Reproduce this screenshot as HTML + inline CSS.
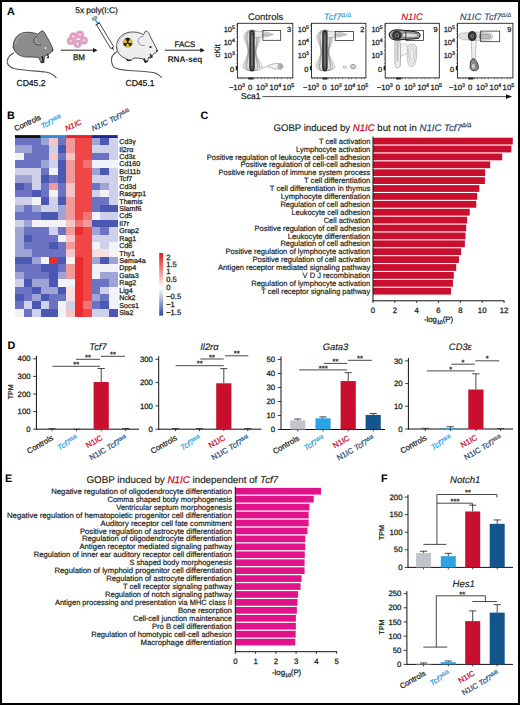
<!DOCTYPE html><html><head><meta charset="utf-8"><style>html,body{margin:0;padding:0;background:#fff;}svg{display:block;}text{font-family:"Liberation Sans", sans-serif;text-rendering:geometricPrecision;}</style></head><body>
<svg width="520" height="705" viewBox="0 0 520 705">
<rect x="0" y="0" width="520" height="705" fill="#fff"/>
<text x="7.00" y="14.60" font-size="10.8" text-anchor="start" fill="#000" font-weight="bold" font-style="normal" >A</text>
<text x="7.00" y="118.60" font-size="10.8" text-anchor="start" fill="#000" font-weight="bold" font-style="normal" >B</text>
<text x="200.50" y="119.40" font-size="10.8" text-anchor="start" fill="#000" font-weight="bold" font-style="normal" >C</text>
<text x="7.50" y="348.80" font-size="10.8" text-anchor="start" fill="#000" font-weight="bold" font-style="normal" >D</text>
<text x="5.00" y="482.00" font-size="10.8" text-anchor="start" fill="#000" font-weight="bold" font-style="normal" >E</text>
<text x="381.00" y="481.60" font-size="10.8" text-anchor="start" fill="#000" font-weight="bold" font-style="normal" >F</text>
<text x="96.50" y="13.30" font-size="8.3" text-anchor="middle" fill="#231f20" font-weight="normal" font-style="normal"  stroke="#231f20" stroke-width="0.26">5x poly(I:C)</text>
<text x="31.00" y="85.60" font-size="8.6" text-anchor="middle" fill="#231f20" font-weight="normal" font-style="normal"  stroke="#231f20" stroke-width="0.26">CD45.2</text>
<text x="140.00" y="85.60" font-size="8.6" text-anchor="middle" fill="#231f20" font-weight="normal" font-style="normal"  stroke="#231f20" stroke-width="0.26">CD45.1</text>
<text x="79.00" y="60.30" font-size="8" text-anchor="middle" fill="#231f20" font-weight="normal" font-style="normal"  stroke="#231f20" stroke-width="0.26">BM</text>
<text x="185.00" y="46.80" font-size="8" text-anchor="middle" fill="#231f20" font-weight="normal" font-style="normal"  stroke="#231f20" stroke-width="0.26">FACS</text>
<text x="185.00" y="61.70" font-size="8.2" text-anchor="middle" fill="#231f20" font-weight="bold" font-style="normal" >RNA-seq</text>
<line x1="60.8" y1="50.2" x2="94.5" y2="50.2" stroke="#111" stroke-width="0.9"/>
<path d="M97.5,50.2 L93.0,47.900000000000006 L93.0,52.5 Z" fill="#111"/>
<line x1="164.8" y1="50.2" x2="201.8" y2="50.2" stroke="#111" stroke-width="0.9"/>
<path d="M204.8,50.2 L200.3,47.900000000000006 L200.3,52.5 Z" fill="#111"/>
<g stroke="#333" stroke-width="0.8" stroke-linejoin="round" stroke-linecap="round">
<path d="M13.5,53 C9,55.5 6.5,60 7.3,63 C8.5,66 10,67.3 14,68.5 C22,70.5 36,71 45.4,72 C50,72.8 54,75 56,77.7" fill="none" stroke="#555" stroke-width="1.2"/>
<path d="M13.2,47 C12.8,40 17,34 24,32.6 C28,31.8 34,32.5 37.7,34.2 L41.8,30.8 C43.5,31 44.8,32.5 45.2,33.8 C48,39 51.5,44.5 52.9,49.5 C52.8,51.2 52,52 51.2,52.3 L48.5,54.5 L45,55.5 L43.5,62.5 L41,62.7 L38.8,57.5 C35,57 31,57 27,57 C21,57 14,53.5 13.2,47 Z" fill="#8d8d8d"/>
</g>
<path d="M15.5,44 C16,38 20,34.5 26,33.5" fill="none" stroke="#b0b0b0" stroke-width="0.9"/>
<path d="M37,36.5 C34,37.5 33.2,40.5 34.5,43 C35.5,44.5 38,45 41,44.9" fill="none" stroke="#3a3a3a" stroke-width="0.9"/>
<path d="M37,37.5 C35,38.5 34.8,41 35.8,42.5 C36.8,43.8 38.5,44 40,43.8" fill="none" stroke="#c4c4c4" stroke-width="0.8"/>
<path d="M42,56 L43.5,62 L41,62.5" fill="none" stroke="#222" stroke-width="1.5"/>
<path d="M47.5,53.8 L48.5,57.5 L46.8,58" fill="none" stroke="#222" stroke-width="1.2"/>
<circle cx="45.5" cy="48.1" r="0.9" fill="#f0f0f0"/>
<circle cx="52.6" cy="50" r="0.8" fill="#222"/>
<circle cx="77.6" cy="43.8" r="3.9" fill="#f0b6cf" stroke="#a9a0aa" stroke-width="0.55"/>
<circle cx="77.6" cy="43.8" r="2.3" fill="#f6cadc" stroke="#de7aa8" stroke-width="0.9"/>
<circle cx="83.8" cy="40.4" r="3.9" fill="#f0b6cf" stroke="#a9a0aa" stroke-width="0.55"/>
<circle cx="83.8" cy="40.4" r="2.3" fill="#f6cadc" stroke="#de7aa8" stroke-width="0.9"/>
<circle cx="70.9" cy="40.9" r="3.9" fill="#f0b6cf" stroke="#a9a0aa" stroke-width="0.55"/>
<circle cx="70.9" cy="40.9" r="2.3" fill="#f6cadc" stroke="#de7aa8" stroke-width="0.9"/>
<circle cx="80" cy="34.6" r="3.9" fill="#f0b6cf" stroke="#a9a0aa" stroke-width="0.55"/>
<circle cx="80" cy="34.6" r="2.3" fill="#f6cadc" stroke="#de7aa8" stroke-width="0.9"/>
<circle cx="73.3" cy="36.5" r="3.9" fill="#f0b6cf" stroke="#a9a0aa" stroke-width="0.55"/>
<circle cx="73.3" cy="36.5" r="2.3" fill="#f6cadc" stroke="#de7aa8" stroke-width="0.9"/>
<g transform="translate(104,34) rotate(59)">
<rect x="-12" y="-1.7" width="28" height="3.4" fill="#fff" stroke="#222" stroke-width="0.75"/>
<path d="M16,-0.8 L19.5,0 L16,0.8 Z" fill="#222"/>
<line x1="-12" y1="0" x2="-17" y2="0" stroke="#5a9ed6" stroke-width="1.6"/>
<rect x="-19.5" y="-2.4" width="2.4" height="4.8" fill="#9cc8ea" stroke="#345" stroke-width="0.5"/>
<line x1="-12" y1="-2.6" x2="-12" y2="2.6" stroke="#222" stroke-width="0.8"/>
</g>
<g stroke="#2a2a2a" stroke-width="0.8" stroke-linejoin="round" stroke-linecap="round">
<path d="M117,51.5 C113,54 111,58 111.5,61 C112,64.5 113,67 115,68 C120,70 128,70.6 136,71 C145,71.5 150,72 154.6,72.7 C158,74 160,75.5 161.5,77.3" fill="none" stroke="#555" stroke-width="1.1"/>
<path d="M116.6,48 C116,40 121,33.5 129.5,32.2 C135,31.5 140,32.5 143.5,34.7 L145.6,31 C147.3,30.8 149.5,33 150.3,36.8 C152.5,41 155.5,46 157.2,50 C157.2,52 155.8,53 153.8,53.6 L151.5,56.5 L148.5,57.5 L147.8,61.5 L145,62.5 L143.2,58.8 C140,58.2 137,57.9 134,58 L131.7,60 L127.5,60.6 L125.8,58.4 C121,57 117.4,53.2 116.6,48 Z" fill="#eeeeee"/>
</g>
<path d="M143.5,36.5 C140,36 137.6,39 138.2,42 C138.8,44.5 141,45.8 144.6,45.5" fill="none" stroke="#7a70a8" stroke-width="0.75"/>
<path d="M119,43 C120,37 125,33.5 131,33" fill="none" stroke="#b8b4d8" stroke-width="0.7"/>
<path d="M144,58.5 L145.5,62 L147.5,61" fill="none" stroke="#222" stroke-width="1.6"/>
<path d="M126.5,59 L128,60.5 L130.5,60" fill="none" stroke="#222" stroke-width="1.5"/>
<path d="M150,54 L152,57 L149.5,58" fill="none" stroke="#333" stroke-width="1.4"/>
<path d="M156,51.5 L157.8,50.2" fill="none" stroke="#222" stroke-width="1.2"/>
<circle cx="150.5" cy="47" r="1.1" fill="#1a1a1a"/>
<circle cx="127.7" cy="42.7" r="4.6" fill="#f2c21a" stroke="#555" stroke-width="0.4"/>
<circle cx="127.7" cy="42.7" r="0.9" fill="#222"/>
<path d="M127.7,42.7 L125.2,38.8 A4,4 0 0 1 130.2,38.8 Z M127.7,42.7 L132.2,43.2 A4,4 0 0 1 129.8,46.6 Z M127.7,42.7 L125.6,46.6 A4,4 0 0 1 123.2,43.2 Z" fill="#222"/>
<text x="265.60" y="20.20" font-size="9.5" text-anchor="middle" fill="#231f20" font-weight="normal" font-style="normal"  stroke="#231f20" stroke-width="0.16">Controls</text>
<text x="234.80" y="31.70" font-size="7.4" text-anchor="end" fill="#231f20" stroke="#231f20" stroke-width="0.26">10<tspan font-size="5.2" dy="-2.9">5</tspan></text>
<text x="234.80" y="45.00" font-size="7.4" text-anchor="end" fill="#231f20" stroke="#231f20" stroke-width="0.26">10<tspan font-size="5.2" dy="-2.9">4</tspan></text>
<text x="234.80" y="57.70" font-size="7.4" text-anchor="end" fill="#231f20" stroke="#231f20" stroke-width="0.26">10<tspan font-size="5.2" dy="-2.9">3</tspan></text>
<text x="234.20" y="71.50" font-size="7.4" text-anchor="end" fill="#231f20" font-weight="normal" font-style="normal"  stroke="#231f20" stroke-width="0.26">0</text>
<text x="236.90" y="89.60" font-size="7.7" text-anchor="middle" fill="#231f20" stroke="#231f20" stroke-width="0.26">−10<tspan font-size="5.4" dy="-2.9">3</tspan></text>
<text x="250.20" y="89.60" font-size="7.7" text-anchor="middle" fill="#231f20" font-weight="normal" font-style="normal"  stroke="#231f20" stroke-width="0.26">0</text>
<text x="261.90" y="89.60" font-size="7.7" text-anchor="middle" fill="#231f20" stroke="#231f20" stroke-width="0.26">10<tspan font-size="5.4" dy="-2.9">3</tspan></text>
<text x="275.40" y="89.60" font-size="7.7" text-anchor="middle" fill="#231f20" stroke="#231f20" stroke-width="0.26">10<tspan font-size="5.4" dy="-2.9">4</tspan></text>
<text x="288.40" y="89.60" font-size="7.7" text-anchor="middle" fill="#231f20" stroke="#231f20" stroke-width="0.26">10<tspan font-size="5.4" dy="-2.9">5</tspan></text>
<g transform="translate(237.4,23.3)">
<path d="M12.60,7 C8.60,8 5.60,11 6.60,15 C7.60,19 10.60,23 10.60,28 C10.60,34 5.60,39 5.60,43 C5.60,46 9.60,47.5 14.60,47.5 C19.60,47.5 25.60,46 24.60,43 C23.60,39 18.60,34 18.60,29 C18.60,23 23.60,19 22.60,14 C21.60,10 19.60,8 16.60,7 Z" fill="#f5f5f5" stroke="#9a9a9a" stroke-width="0.5"/>
<path d="M12.60,7 C9.50,8 7.40,11 8.10,15 C8.80,19 10.90,23 10.90,28 C10.90,34 7.40,39 7.40,43 C7.40,46 10.20,47.5 14.60,47.5 C19.00,47.5 23.20,46 22.50,43 C21.80,39 18.30,34 18.30,29 C18.30,23 21.80,19 21.10,14 C20.40,10 19.00,8 16.60,7 Z" fill="#ebebeb" stroke="#7a7a7a" stroke-width="0.5"/>
<path d="M12.60,7 C10.40,8 9.20,11 9.60,15 C10.00,19 11.20,23 11.20,28 C11.20,34 9.20,39 9.20,43 C9.20,46 10.80,47.5 14.60,47.5 C18.40,47.5 20.80,46 20.40,43 C20.00,39 18.00,34 18.00,29 C18.00,23 20.00,19 19.60,14 C19.20,10 18.40,8 16.60,7 Z" fill="#dedede" stroke="#606060" stroke-width="0.55"/>
<path d="M16.6,8 C22.6,7.5 30,8.5 36,11.2 C32,13.5 22.6,14 16.6,14.5 Z" fill="#e8e8e8" stroke="#888" stroke-width="0.5"/>
<path d="M24.6,10.5 C28.6,10 33,10.5 34.5,11.5 C32,12.5 28.6,12.8 24.6,12.5 Z" fill="#bbb"/>
<path d="M12.6,10 C12.2,6.5 17.0,6.5 16.6,10 L16.7,44 C16.9,48.5 12.3,48.5 12.5,44 Z" fill="#555" stroke="#111" stroke-width="1.1"/>
<path d="M14.2,12 L15.0,12 L14.9,43 L14.299999999999999,43 Z" fill="#999"/>
<path d="M29.7,43 C33,41 39,39.5 43,40.2 C46.5,41 46.5,45.5 43,46 C38,46.2 33,44.5 29.7,43 Z" fill="#f4f4f4" stroke="#777" stroke-width="0.5"/>
<circle cx="42.8" cy="43.1" r="2.2" fill="#ddd" stroke="#444" stroke-width="0.5"/>
<circle cx="42.8" cy="43.1" r="0.7" fill="#333"/>
<path d="M18,45 C22,44 26,43.5 29,43.5 C26,45 22,46 18,46.5 Z" fill="#eee" stroke="#999" stroke-width="0.4"/>
<rect x="25.5" y="7.3" width="17.80" height="9.70" fill="none" stroke="#222" stroke-width="0.75"/>
<text x="53.80" y="8.3" font-size="7.4" text-anchor="end" fill="#231f20" stroke="#231f20" stroke-width="0.26">3</text>
<line x1="-1.3" y1="1.5" x2="0" y2="1.5" stroke="#333" stroke-width="0.6"/>
<line x1="-1.3" y1="3" x2="0" y2="3" stroke="#333" stroke-width="0.6"/>
<line x1="-1.3" y1="5.7" x2="0" y2="5.7" stroke="#333" stroke-width="0.6"/>
<line x1="-1.3" y1="8" x2="0" y2="8" stroke="#333" stroke-width="0.6"/>
<line x1="-1.3" y1="10.5" x2="0" y2="10.5" stroke="#333" stroke-width="0.6"/>
<line x1="-1.3" y1="14" x2="0" y2="14" stroke="#333" stroke-width="0.6"/>
<line x1="-1.3" y1="18.7" x2="0" y2="18.7" stroke="#333" stroke-width="0.6"/>
<line x1="-1.3" y1="21" x2="0" y2="21" stroke="#333" stroke-width="0.6"/>
<line x1="-1.3" y1="23.5" x2="0" y2="23.5" stroke="#333" stroke-width="0.6"/>
<line x1="-1.3" y1="27" x2="0" y2="27" stroke="#333" stroke-width="0.6"/>
<line x1="-1.3" y1="31.5" x2="0" y2="31.5" stroke="#333" stroke-width="0.6"/>
<line x1="-1.3" y1="34" x2="0" y2="34" stroke="#333" stroke-width="0.6"/>
<line x1="-1.3" y1="36.5" x2="0" y2="36.5" stroke="#333" stroke-width="0.6"/>
<line x1="-1.3" y1="40" x2="0" y2="40" stroke="#333" stroke-width="0.6"/>
<rect x="-1.6" y="42.5" width="1.8" height="4.5" fill="#222"/>
<line x1="1" y1="54.6" x2="1" y2="55.9" stroke="#333" stroke-width="0.6"/>
<line x1="3.5" y1="54.6" x2="3.5" y2="55.9" stroke="#333" stroke-width="0.6"/>
<line x1="6" y1="54.6" x2="6" y2="55.9" stroke="#333" stroke-width="0.6"/>
<line x1="8.5" y1="54.6" x2="8.5" y2="55.9" stroke="#333" stroke-width="0.6"/>
<line x1="11" y1="54.6" x2="11" y2="55.9" stroke="#333" stroke-width="0.6"/>
<line x1="17" y1="54.6" x2="17" y2="55.9" stroke="#333" stroke-width="0.6"/>
<line x1="20" y1="54.6" x2="20" y2="55.9" stroke="#333" stroke-width="0.6"/>
<line x1="24" y1="54.6" x2="24" y2="55.9" stroke="#333" stroke-width="0.6"/>
<line x1="27" y1="54.6" x2="27" y2="55.9" stroke="#333" stroke-width="0.6"/>
<line x1="31" y1="54.6" x2="31" y2="55.9" stroke="#333" stroke-width="0.6"/>
<line x1="37" y1="54.6" x2="37" y2="55.9" stroke="#333" stroke-width="0.6"/>
<line x1="40" y1="54.6" x2="40" y2="55.9" stroke="#333" stroke-width="0.6"/>
<line x1="44" y1="54.6" x2="44" y2="55.9" stroke="#333" stroke-width="0.6"/>
<line x1="50" y1="54.6" x2="50" y2="55.9" stroke="#333" stroke-width="0.6"/>
<line x1="53" y1="54.6" x2="53" y2="55.9" stroke="#333" stroke-width="0.6"/>
<rect x="11" y="54.300000000000004" width="5" height="1.9" fill="#222"/>
<rect x="0" y="0" width="55.4" height="54.6" fill="none" stroke="#222" stroke-width="0.9"/>
</g>
<text x="337.5" y="20.2" font-size="9.5" text-anchor="middle" fill="#2ea3e3" font-style="italic" stroke="#2ea3e3" stroke-width="0.16">Tcf7<tspan font-size="6" dy="-3.5">Δ/Δ</tspan></text>
<text x="308.90" y="31.70" font-size="7.4" text-anchor="end" fill="#231f20" stroke="#231f20" stroke-width="0.26">10<tspan font-size="5.2" dy="-2.9">5</tspan></text>
<text x="308.90" y="45.00" font-size="7.4" text-anchor="end" fill="#231f20" stroke="#231f20" stroke-width="0.26">10<tspan font-size="5.2" dy="-2.9">4</tspan></text>
<text x="308.90" y="57.70" font-size="7.4" text-anchor="end" fill="#231f20" stroke="#231f20" stroke-width="0.26">10<tspan font-size="5.2" dy="-2.9">3</tspan></text>
<text x="308.30" y="71.50" font-size="7.4" text-anchor="end" fill="#231f20" font-weight="normal" font-style="normal"  stroke="#231f20" stroke-width="0.26">0</text>
<text x="311.00" y="89.60" font-size="7.7" text-anchor="middle" fill="#231f20" stroke="#231f20" stroke-width="0.26">−10<tspan font-size="5.4" dy="-2.9">3</tspan></text>
<text x="324.30" y="89.60" font-size="7.7" text-anchor="middle" fill="#231f20" font-weight="normal" font-style="normal"  stroke="#231f20" stroke-width="0.26">0</text>
<text x="336.00" y="89.60" font-size="7.7" text-anchor="middle" fill="#231f20" stroke="#231f20" stroke-width="0.26">10<tspan font-size="5.4" dy="-2.9">3</tspan></text>
<text x="349.50" y="89.60" font-size="7.7" text-anchor="middle" fill="#231f20" stroke="#231f20" stroke-width="0.26">10<tspan font-size="5.4" dy="-2.9">4</tspan></text>
<text x="362.50" y="89.60" font-size="7.7" text-anchor="middle" fill="#231f20" stroke="#231f20" stroke-width="0.26">10<tspan font-size="5.4" dy="-2.9">5</tspan></text>
<g transform="translate(311.5,23.3)">
<path d="M11.40,7 C7.40,8 4.40,11 5.40,15 C6.40,19 9.40,23 9.40,28 C9.40,34 4.40,39 4.40,43 C4.40,46 8.40,47.5 13.40,47.5 C18.40,47.5 24.40,46 23.40,43 C22.40,39 17.40,34 17.40,29 C17.40,23 22.40,19 21.40,14 C20.40,10 18.40,8 15.40,7 Z" fill="#f5f5f5" stroke="#9a9a9a" stroke-width="0.5"/>
<path d="M11.40,7 C8.30,8 6.20,11 6.90,15 C7.60,19 9.70,23 9.70,28 C9.70,34 6.20,39 6.20,43 C6.20,46 9.00,47.5 13.40,47.5 C17.80,47.5 22.00,46 21.30,43 C20.60,39 17.10,34 17.10,29 C17.10,23 20.60,19 19.90,14 C19.20,10 17.80,8 15.40,7 Z" fill="#ebebeb" stroke="#7a7a7a" stroke-width="0.5"/>
<path d="M11.40,7 C9.20,8 8.00,11 8.40,15 C8.80,19 10.00,23 10.00,28 C10.00,34 8.00,39 8.00,43 C8.00,46 9.60,47.5 13.40,47.5 C17.20,47.5 19.60,46 19.20,43 C18.80,39 16.80,34 16.80,29 C16.80,23 18.80,19 18.40,14 C18.00,10 17.20,8 15.40,7 Z" fill="#dedede" stroke="#606060" stroke-width="0.55"/>
<path d="M15.4,8 C21.4,7.5 29.5,8.5 35.5,11.2 C31.5,13.5 21.4,14 15.4,14.5 Z" fill="#e8e8e8" stroke="#888" stroke-width="0.5"/>
<path d="M23.4,10.5 C27.4,10 32.5,10.5 34.0,11.5 C31.5,12.5 27.4,12.8 23.4,12.5 Z" fill="#bbb"/>
<path d="M11.4,10 C11.0,6.5 15.8,6.5 15.4,10 L15.5,44 C15.7,48.5 11.100000000000001,48.5 11.3,44 Z" fill="#555" stroke="#111" stroke-width="1.1"/>
<path d="M13.0,12 L13.8,12 L13.700000000000001,43 L13.1,43 Z" fill="#999"/>
<ellipse cx="33.2" cy="43.8" rx="1.8" ry="1.1" fill="#fff" stroke="#777" stroke-width="0.5"/>
<ellipse cx="41.5" cy="43.3" rx="2.6" ry="2.2" fill="#eee" stroke="#555" stroke-width="0.6"/>
<ellipse cx="41.5" cy="43.3" rx="1.1" ry="1" fill="#fff" stroke="#777" stroke-width="0.4"/>
<rect x="23.7" y="8.1" width="18.40" height="9.00" fill="none" stroke="#222" stroke-width="0.75"/>
<text x="52.80" y="8.3" font-size="7.4" text-anchor="end" fill="#231f20" stroke="#231f20" stroke-width="0.26">2</text>
<line x1="-1.3" y1="1.5" x2="0" y2="1.5" stroke="#333" stroke-width="0.6"/>
<line x1="-1.3" y1="3" x2="0" y2="3" stroke="#333" stroke-width="0.6"/>
<line x1="-1.3" y1="5.7" x2="0" y2="5.7" stroke="#333" stroke-width="0.6"/>
<line x1="-1.3" y1="8" x2="0" y2="8" stroke="#333" stroke-width="0.6"/>
<line x1="-1.3" y1="10.5" x2="0" y2="10.5" stroke="#333" stroke-width="0.6"/>
<line x1="-1.3" y1="14" x2="0" y2="14" stroke="#333" stroke-width="0.6"/>
<line x1="-1.3" y1="18.7" x2="0" y2="18.7" stroke="#333" stroke-width="0.6"/>
<line x1="-1.3" y1="21" x2="0" y2="21" stroke="#333" stroke-width="0.6"/>
<line x1="-1.3" y1="23.5" x2="0" y2="23.5" stroke="#333" stroke-width="0.6"/>
<line x1="-1.3" y1="27" x2="0" y2="27" stroke="#333" stroke-width="0.6"/>
<line x1="-1.3" y1="31.5" x2="0" y2="31.5" stroke="#333" stroke-width="0.6"/>
<line x1="-1.3" y1="34" x2="0" y2="34" stroke="#333" stroke-width="0.6"/>
<line x1="-1.3" y1="36.5" x2="0" y2="36.5" stroke="#333" stroke-width="0.6"/>
<line x1="-1.3" y1="40" x2="0" y2="40" stroke="#333" stroke-width="0.6"/>
<rect x="-1.6" y="42.5" width="1.8" height="4.5" fill="#222"/>
<line x1="1" y1="54.6" x2="1" y2="55.9" stroke="#333" stroke-width="0.6"/>
<line x1="3.5" y1="54.6" x2="3.5" y2="55.9" stroke="#333" stroke-width="0.6"/>
<line x1="6" y1="54.6" x2="6" y2="55.9" stroke="#333" stroke-width="0.6"/>
<line x1="8.5" y1="54.6" x2="8.5" y2="55.9" stroke="#333" stroke-width="0.6"/>
<line x1="11" y1="54.6" x2="11" y2="55.9" stroke="#333" stroke-width="0.6"/>
<line x1="17" y1="54.6" x2="17" y2="55.9" stroke="#333" stroke-width="0.6"/>
<line x1="20" y1="54.6" x2="20" y2="55.9" stroke="#333" stroke-width="0.6"/>
<line x1="24" y1="54.6" x2="24" y2="55.9" stroke="#333" stroke-width="0.6"/>
<line x1="27" y1="54.6" x2="27" y2="55.9" stroke="#333" stroke-width="0.6"/>
<line x1="31" y1="54.6" x2="31" y2="55.9" stroke="#333" stroke-width="0.6"/>
<line x1="37" y1="54.6" x2="37" y2="55.9" stroke="#333" stroke-width="0.6"/>
<line x1="40" y1="54.6" x2="40" y2="55.9" stroke="#333" stroke-width="0.6"/>
<line x1="44" y1="54.6" x2="44" y2="55.9" stroke="#333" stroke-width="0.6"/>
<line x1="50" y1="54.6" x2="50" y2="55.9" stroke="#333" stroke-width="0.6"/>
<line x1="53" y1="54.6" x2="53" y2="55.9" stroke="#333" stroke-width="0.6"/>
<rect x="11" y="54.300000000000004" width="5" height="1.9" fill="#222"/>
<rect x="0" y="0" width="54.4" height="54.6" fill="none" stroke="#222" stroke-width="0.9"/>
</g>
<text x="412.00" y="20.20" font-size="9.5" text-anchor="middle" fill="#c8102e" font-weight="normal" font-style="italic"  stroke="#c8102e" stroke-width="0.16">N1IC</text>
<text x="382.60" y="31.70" font-size="7.4" text-anchor="end" fill="#231f20" stroke="#231f20" stroke-width="0.26">10<tspan font-size="5.2" dy="-2.9">5</tspan></text>
<text x="382.60" y="45.00" font-size="7.4" text-anchor="end" fill="#231f20" stroke="#231f20" stroke-width="0.26">10<tspan font-size="5.2" dy="-2.9">4</tspan></text>
<text x="382.60" y="57.70" font-size="7.4" text-anchor="end" fill="#231f20" stroke="#231f20" stroke-width="0.26">10<tspan font-size="5.2" dy="-2.9">3</tspan></text>
<text x="382.00" y="71.50" font-size="7.4" text-anchor="end" fill="#231f20" font-weight="normal" font-style="normal"  stroke="#231f20" stroke-width="0.26">0</text>
<text x="384.70" y="89.60" font-size="7.7" text-anchor="middle" fill="#231f20" stroke="#231f20" stroke-width="0.26">−10<tspan font-size="5.4" dy="-2.9">3</tspan></text>
<text x="398.00" y="89.60" font-size="7.7" text-anchor="middle" fill="#231f20" font-weight="normal" font-style="normal"  stroke="#231f20" stroke-width="0.26">0</text>
<text x="409.70" y="89.60" font-size="7.7" text-anchor="middle" fill="#231f20" stroke="#231f20" stroke-width="0.26">10<tspan font-size="5.4" dy="-2.9">3</tspan></text>
<text x="423.20" y="89.60" font-size="7.7" text-anchor="middle" fill="#231f20" stroke="#231f20" stroke-width="0.26">10<tspan font-size="5.4" dy="-2.9">4</tspan></text>
<text x="436.20" y="89.60" font-size="7.7" text-anchor="middle" fill="#231f20" stroke="#231f20" stroke-width="0.26">10<tspan font-size="5.4" dy="-2.9">5</tspan></text>
<g transform="translate(385.2,23.3)">
<path d="M21.8,26 C22,20 30,19 31.3,24 C32,30 31.5,38 29,42 C26,44.5 23,43 22.5,38 C21.8,34 21.6,30 21.8,26 Z" fill="#f0f0f0" stroke="#888" stroke-width="0.5"/>
<path d="M23.5,26.5 C24,22 29,22 29.8,25.5 C30.2,30 30,37 28,40 C26,42 24.5,40 24,36 C23.6,33 23.4,30 23.5,26.5 Z" fill="none" stroke="#999" stroke-width="0.45"/>
<path d="M25.3,27 C25.8,24.5 28,24.5 28.2,27 C28.4,31 28.2,35 27,37.5 C26,38.5 25.5,37 25.3,34 Z" fill="none" stroke="#aaa" stroke-width="0.4"/>
<path d="M14,22 C17,20 20,20 22,22 L22.5,30 C19,31 16,33 14.5,34 Z" fill="#f3f3f3" stroke="#999" stroke-width="0.45"/>
<path d="M10,16 L14.5,16 C15.5,24 15.5,34 15,42 C14.5,45.5 10.5,45.5 10,42 C9.5,34 9.5,24 10,16 Z" fill="#eee" stroke="#777" stroke-width="0.55"/>
<path d="M11.4,17 L13.2,17 L13.2,38 L11.4,38 Z" fill="#bbb"/>
<path d="M4,11.5 C4,7 10,6.2 14,6.6 C20,7.2 28,8 33,9 C35.5,10 35.5,14 33,15 C28,16 20,16 15,16.5 C10,17.5 4,16 4,11.5 Z" fill="#999" stroke="#111" stroke-width="1"/>
<path d="M17,10 C23,9.5 29,10 32,11 C33,12 32.5,13.5 31,13.8 C26,14.2 21,14 17,13.8 Z" fill="#ddd" stroke="#555" stroke-width="0.5"/>
<circle cx="11.7" cy="12" r="4.8" fill="#333"/>
<circle cx="11.7" cy="12" r="2.2" fill="#777"/>
<circle cx="11.7" cy="12" r="1" fill="#222"/>
<rect x="20.6" y="7.2" width="17.80" height="10.10" fill="none" stroke="#222" stroke-width="0.75"/>
<text x="52.50" y="8.3" font-size="7.4" text-anchor="end" fill="#231f20" stroke="#231f20" stroke-width="0.26">9</text>
<line x1="-1.3" y1="1.5" x2="0" y2="1.5" stroke="#333" stroke-width="0.6"/>
<line x1="-1.3" y1="3" x2="0" y2="3" stroke="#333" stroke-width="0.6"/>
<line x1="-1.3" y1="5.7" x2="0" y2="5.7" stroke="#333" stroke-width="0.6"/>
<line x1="-1.3" y1="8" x2="0" y2="8" stroke="#333" stroke-width="0.6"/>
<line x1="-1.3" y1="10.5" x2="0" y2="10.5" stroke="#333" stroke-width="0.6"/>
<line x1="-1.3" y1="14" x2="0" y2="14" stroke="#333" stroke-width="0.6"/>
<line x1="-1.3" y1="18.7" x2="0" y2="18.7" stroke="#333" stroke-width="0.6"/>
<line x1="-1.3" y1="21" x2="0" y2="21" stroke="#333" stroke-width="0.6"/>
<line x1="-1.3" y1="23.5" x2="0" y2="23.5" stroke="#333" stroke-width="0.6"/>
<line x1="-1.3" y1="27" x2="0" y2="27" stroke="#333" stroke-width="0.6"/>
<line x1="-1.3" y1="31.5" x2="0" y2="31.5" stroke="#333" stroke-width="0.6"/>
<line x1="-1.3" y1="34" x2="0" y2="34" stroke="#333" stroke-width="0.6"/>
<line x1="-1.3" y1="36.5" x2="0" y2="36.5" stroke="#333" stroke-width="0.6"/>
<line x1="-1.3" y1="40" x2="0" y2="40" stroke="#333" stroke-width="0.6"/>
<rect x="-1.6" y="42.5" width="1.8" height="4.5" fill="#222"/>
<line x1="1" y1="54.6" x2="1" y2="55.9" stroke="#333" stroke-width="0.6"/>
<line x1="3.5" y1="54.6" x2="3.5" y2="55.9" stroke="#333" stroke-width="0.6"/>
<line x1="6" y1="54.6" x2="6" y2="55.9" stroke="#333" stroke-width="0.6"/>
<line x1="8.5" y1="54.6" x2="8.5" y2="55.9" stroke="#333" stroke-width="0.6"/>
<line x1="11" y1="54.6" x2="11" y2="55.9" stroke="#333" stroke-width="0.6"/>
<line x1="17" y1="54.6" x2="17" y2="55.9" stroke="#333" stroke-width="0.6"/>
<line x1="20" y1="54.6" x2="20" y2="55.9" stroke="#333" stroke-width="0.6"/>
<line x1="24" y1="54.6" x2="24" y2="55.9" stroke="#333" stroke-width="0.6"/>
<line x1="27" y1="54.6" x2="27" y2="55.9" stroke="#333" stroke-width="0.6"/>
<line x1="31" y1="54.6" x2="31" y2="55.9" stroke="#333" stroke-width="0.6"/>
<line x1="37" y1="54.6" x2="37" y2="55.9" stroke="#333" stroke-width="0.6"/>
<line x1="40" y1="54.6" x2="40" y2="55.9" stroke="#333" stroke-width="0.6"/>
<line x1="44" y1="54.6" x2="44" y2="55.9" stroke="#333" stroke-width="0.6"/>
<line x1="50" y1="54.6" x2="50" y2="55.9" stroke="#333" stroke-width="0.6"/>
<line x1="53" y1="54.6" x2="53" y2="55.9" stroke="#333" stroke-width="0.6"/>
<rect x="11" y="54.300000000000004" width="5" height="1.9" fill="#222"/>
<rect x="0" y="0" width="54.1" height="54.6" fill="none" stroke="#222" stroke-width="0.9"/>
</g>
<text x="485.5" y="20.2" font-size="9.5" text-anchor="middle" fill="#335279" font-style="italic" stroke="#335279" stroke-width="0.16">N1IC Tcf7<tspan font-size="6" dy="-3.5">Δ/Δ</tspan></text>
<text x="454.80" y="31.70" font-size="7.4" text-anchor="end" fill="#231f20" stroke="#231f20" stroke-width="0.26">10<tspan font-size="5.2" dy="-2.9">5</tspan></text>
<text x="454.80" y="45.00" font-size="7.4" text-anchor="end" fill="#231f20" stroke="#231f20" stroke-width="0.26">10<tspan font-size="5.2" dy="-2.9">4</tspan></text>
<text x="454.80" y="57.70" font-size="7.4" text-anchor="end" fill="#231f20" stroke="#231f20" stroke-width="0.26">10<tspan font-size="5.2" dy="-2.9">3</tspan></text>
<text x="454.20" y="71.50" font-size="7.4" text-anchor="end" fill="#231f20" font-weight="normal" font-style="normal"  stroke="#231f20" stroke-width="0.26">0</text>
<text x="456.90" y="89.60" font-size="7.7" text-anchor="middle" fill="#231f20" stroke="#231f20" stroke-width="0.26">−10<tspan font-size="5.4" dy="-2.9">3</tspan></text>
<text x="470.20" y="89.60" font-size="7.7" text-anchor="middle" fill="#231f20" font-weight="normal" font-style="normal"  stroke="#231f20" stroke-width="0.26">0</text>
<text x="481.90" y="89.60" font-size="7.7" text-anchor="middle" fill="#231f20" stroke="#231f20" stroke-width="0.26">10<tspan font-size="5.4" dy="-2.9">3</tspan></text>
<text x="495.40" y="89.60" font-size="7.7" text-anchor="middle" fill="#231f20" stroke="#231f20" stroke-width="0.26">10<tspan font-size="5.4" dy="-2.9">4</tspan></text>
<text x="508.40" y="89.60" font-size="7.7" text-anchor="middle" fill="#231f20" stroke="#231f20" stroke-width="0.26">10<tspan font-size="5.4" dy="-2.9">5</tspan></text>
<g transform="translate(457.4,23.3)">
<path d="M1,12.5 C1,9.5 6,9.5 10,9.5 C16,8 26,9 33,10 C36,11 36,15.5 33,16.5 C26,17.5 18,17 12,16.8 C6,16.8 1,15.5 1,12.5 Z" fill="#e0e0e0" stroke="#999" stroke-width="0.5"/>
<path d="M22,11 C27,10.5 31,11 33,12 C34,13 33.5,14.5 32,15 C28,15.5 25,15.5 22,15 Z" fill="#bbb" stroke="#777" stroke-width="0.5"/>
<path d="M13.9,17 L19,17 C18.5,24 18,30 18,36 L14.5,36 C14.5,30 14,24 13.9,17 Z" fill="#eee" stroke="#888" stroke-width="0.5"/>
<path d="M12.8,42 C12.5,37 15,35 16.5,35.5 C19,36.5 21.5,42 21,45 C20,48 14,48.5 12.8,45 Z" fill="#888" stroke="#222" stroke-width="0.8"/>
<ellipse cx="16" cy="43" rx="1.6" ry="2.5" fill="#ccc"/>
<ellipse cx="14.8" cy="12.8" rx="4.4" ry="5" fill="#333"/>
<ellipse cx="14.8" cy="12.8" rx="1.8" ry="2" fill="#888"/>
<circle cx="14.8" cy="12.8" r="0.8" fill="#111"/>
<rect x="23.3" y="7.8" width="19.00" height="10.60" fill="none" stroke="#222" stroke-width="0.75"/>
<text x="53.90" y="8.3" font-size="7.4" text-anchor="end" fill="#231f20" stroke="#231f20" stroke-width="0.26">9</text>
<line x1="-1.3" y1="1.5" x2="0" y2="1.5" stroke="#333" stroke-width="0.6"/>
<line x1="-1.3" y1="3" x2="0" y2="3" stroke="#333" stroke-width="0.6"/>
<line x1="-1.3" y1="5.7" x2="0" y2="5.7" stroke="#333" stroke-width="0.6"/>
<line x1="-1.3" y1="8" x2="0" y2="8" stroke="#333" stroke-width="0.6"/>
<line x1="-1.3" y1="10.5" x2="0" y2="10.5" stroke="#333" stroke-width="0.6"/>
<line x1="-1.3" y1="14" x2="0" y2="14" stroke="#333" stroke-width="0.6"/>
<line x1="-1.3" y1="18.7" x2="0" y2="18.7" stroke="#333" stroke-width="0.6"/>
<line x1="-1.3" y1="21" x2="0" y2="21" stroke="#333" stroke-width="0.6"/>
<line x1="-1.3" y1="23.5" x2="0" y2="23.5" stroke="#333" stroke-width="0.6"/>
<line x1="-1.3" y1="27" x2="0" y2="27" stroke="#333" stroke-width="0.6"/>
<line x1="-1.3" y1="31.5" x2="0" y2="31.5" stroke="#333" stroke-width="0.6"/>
<line x1="-1.3" y1="34" x2="0" y2="34" stroke="#333" stroke-width="0.6"/>
<line x1="-1.3" y1="36.5" x2="0" y2="36.5" stroke="#333" stroke-width="0.6"/>
<line x1="-1.3" y1="40" x2="0" y2="40" stroke="#333" stroke-width="0.6"/>
<rect x="-1.6" y="42.5" width="1.8" height="4.5" fill="#222"/>
<line x1="1" y1="54.6" x2="1" y2="55.9" stroke="#333" stroke-width="0.6"/>
<line x1="3.5" y1="54.6" x2="3.5" y2="55.9" stroke="#333" stroke-width="0.6"/>
<line x1="6" y1="54.6" x2="6" y2="55.9" stroke="#333" stroke-width="0.6"/>
<line x1="8.5" y1="54.6" x2="8.5" y2="55.9" stroke="#333" stroke-width="0.6"/>
<line x1="11" y1="54.6" x2="11" y2="55.9" stroke="#333" stroke-width="0.6"/>
<line x1="17" y1="54.6" x2="17" y2="55.9" stroke="#333" stroke-width="0.6"/>
<line x1="20" y1="54.6" x2="20" y2="55.9" stroke="#333" stroke-width="0.6"/>
<line x1="24" y1="54.6" x2="24" y2="55.9" stroke="#333" stroke-width="0.6"/>
<line x1="27" y1="54.6" x2="27" y2="55.9" stroke="#333" stroke-width="0.6"/>
<line x1="31" y1="54.6" x2="31" y2="55.9" stroke="#333" stroke-width="0.6"/>
<line x1="37" y1="54.6" x2="37" y2="55.9" stroke="#333" stroke-width="0.6"/>
<line x1="40" y1="54.6" x2="40" y2="55.9" stroke="#333" stroke-width="0.6"/>
<line x1="44" y1="54.6" x2="44" y2="55.9" stroke="#333" stroke-width="0.6"/>
<line x1="50" y1="54.6" x2="50" y2="55.9" stroke="#333" stroke-width="0.6"/>
<line x1="53" y1="54.6" x2="53" y2="55.9" stroke="#333" stroke-width="0.6"/>
<rect x="11" y="54.300000000000004" width="5" height="1.9" fill="#222"/>
<rect x="0" y="0" width="55.5" height="54.6" fill="none" stroke="#222" stroke-width="0.9"/>
</g>
<text transform="translate(219.8,50.9) rotate(-90)" font-size="7.9" text-anchor="middle" fill="#231f20" stroke="#231f20" stroke-width="0.26">cKit</text>
<text x="241.00" y="99.30" font-size="8.5" text-anchor="start" fill="#231f20" font-weight="normal" font-style="normal"  stroke="#231f20" stroke-width="0.26">Sca1</text>
<line x1="262.5" y1="96.6" x2="507" y2="96.6" stroke="#222" stroke-width="0.8"/>
<path d="M512,96.6 L506,94.3 L506,98.9 Z" fill="#111"/>
<g shape-rendering="crispEdges">
<rect x="15.00" y="138.00" width="9.04" height="7.92" fill="#6b73c2"/>
<rect x="23.54" y="138.00" width="9.04" height="7.92" fill="#6b73c2"/>
<rect x="32.08" y="138.00" width="9.04" height="7.92" fill="#6b73c2"/>
<rect x="40.62" y="138.00" width="9.04" height="7.92" fill="#9ea4d6"/>
<rect x="49.17" y="138.00" width="9.04" height="7.92" fill="#f6c6c6"/>
<rect x="57.71" y="138.00" width="9.04" height="7.92" fill="#6b73c2"/>
<rect x="66.25" y="138.00" width="9.04" height="7.92" fill="#f29a9a"/>
<rect x="74.79" y="138.00" width="9.04" height="7.92" fill="#ef4646"/>
<rect x="83.33" y="138.00" width="9.04" height="7.92" fill="#ef4646"/>
<rect x="91.88" y="138.00" width="9.04" height="7.92" fill="#9ea4d6"/>
<rect x="100.42" y="138.00" width="9.04" height="7.92" fill="#4a57b3"/>
<rect x="108.96" y="138.00" width="9.04" height="7.92" fill="#cfd1ea"/>
<rect x="15.00" y="145.43" width="9.04" height="7.92" fill="#9ea4d6"/>
<rect x="23.54" y="145.43" width="9.04" height="7.92" fill="#9ea4d6"/>
<rect x="32.08" y="145.43" width="9.04" height="7.92" fill="#6b73c2"/>
<rect x="40.62" y="145.43" width="9.04" height="7.92" fill="#6b73c2"/>
<rect x="49.17" y="145.43" width="9.04" height="7.92" fill="#cfd1ea"/>
<rect x="57.71" y="145.43" width="9.04" height="7.92" fill="#4a57b3"/>
<rect x="66.25" y="145.43" width="9.04" height="7.92" fill="#f29a9a"/>
<rect x="74.79" y="145.43" width="9.04" height="7.92" fill="#ef4646"/>
<rect x="83.33" y="145.43" width="9.04" height="7.92" fill="#ef4646"/>
<rect x="91.88" y="145.43" width="9.04" height="7.92" fill="#cfd1ea"/>
<rect x="100.42" y="145.43" width="9.04" height="7.92" fill="#cfd1ea"/>
<rect x="108.96" y="145.43" width="9.04" height="7.92" fill="#cfd1ea"/>
<rect x="15.00" y="152.85" width="9.04" height="7.92" fill="#f2f2f9"/>
<rect x="23.54" y="152.85" width="9.04" height="7.92" fill="#6b73c2"/>
<rect x="32.08" y="152.85" width="9.04" height="7.92" fill="#6b73c2"/>
<rect x="40.62" y="152.85" width="9.04" height="7.92" fill="#6b73c2"/>
<rect x="49.17" y="152.85" width="9.04" height="7.92" fill="#f6c6c6"/>
<rect x="57.71" y="152.85" width="9.04" height="7.92" fill="#6b73c2"/>
<rect x="66.25" y="152.85" width="9.04" height="7.92" fill="#f6c6c6"/>
<rect x="74.79" y="152.85" width="9.04" height="7.92" fill="#ef4646"/>
<rect x="83.33" y="152.85" width="9.04" height="7.92" fill="#ef4646"/>
<rect x="91.88" y="152.85" width="9.04" height="7.92" fill="#6b73c2"/>
<rect x="100.42" y="152.85" width="9.04" height="7.92" fill="#6b73c2"/>
<rect x="108.96" y="152.85" width="9.04" height="7.92" fill="#cfd1ea"/>
<rect x="15.00" y="160.28" width="9.04" height="7.92" fill="#6b73c2"/>
<rect x="23.54" y="160.28" width="9.04" height="7.92" fill="#6b73c2"/>
<rect x="32.08" y="160.28" width="9.04" height="7.92" fill="#6b73c2"/>
<rect x="40.62" y="160.28" width="9.04" height="7.92" fill="#9ea4d6"/>
<rect x="49.17" y="160.28" width="9.04" height="7.92" fill="#cfd1ea"/>
<rect x="57.71" y="160.28" width="9.04" height="7.92" fill="#4a57b3"/>
<rect x="66.25" y="160.28" width="9.04" height="7.92" fill="#f29a9a"/>
<rect x="74.79" y="160.28" width="9.04" height="7.92" fill="#ef4646"/>
<rect x="83.33" y="160.28" width="9.04" height="7.92" fill="#f07474"/>
<rect x="91.88" y="160.28" width="9.04" height="7.92" fill="#f2f2f9"/>
<rect x="100.42" y="160.28" width="9.04" height="7.92" fill="#f2f2f9"/>
<rect x="108.96" y="160.28" width="9.04" height="7.92" fill="#f2f2f9"/>
<rect x="15.00" y="167.70" width="9.04" height="7.92" fill="#cfd1ea"/>
<rect x="23.54" y="167.70" width="9.04" height="7.92" fill="#cfd1ea"/>
<rect x="32.08" y="167.70" width="9.04" height="7.92" fill="#cfd1ea"/>
<rect x="40.62" y="167.70" width="9.04" height="7.92" fill="#6b73c2"/>
<rect x="49.17" y="167.70" width="9.04" height="7.92" fill="#f2f2f9"/>
<rect x="57.71" y="167.70" width="9.04" height="7.92" fill="#4a57b3"/>
<rect x="66.25" y="167.70" width="9.04" height="7.92" fill="#f29a9a"/>
<rect x="74.79" y="167.70" width="9.04" height="7.92" fill="#ef4646"/>
<rect x="83.33" y="167.70" width="9.04" height="7.92" fill="#ef4646"/>
<rect x="91.88" y="167.70" width="9.04" height="7.92" fill="#9ea4d6"/>
<rect x="100.42" y="167.70" width="9.04" height="7.92" fill="#4a57b3"/>
<rect x="108.96" y="167.70" width="9.04" height="7.92" fill="#cfd1ea"/>
<rect x="15.00" y="175.12" width="9.04" height="7.92" fill="#9ea4d6"/>
<rect x="23.54" y="175.12" width="9.04" height="7.92" fill="#9ea4d6"/>
<rect x="32.08" y="175.12" width="9.04" height="7.92" fill="#cfd1ea"/>
<rect x="40.62" y="175.12" width="9.04" height="7.92" fill="#4a57b3"/>
<rect x="49.17" y="175.12" width="9.04" height="7.92" fill="#6b73c2"/>
<rect x="57.71" y="175.12" width="9.04" height="7.92" fill="#4a57b3"/>
<rect x="66.25" y="175.12" width="9.04" height="7.92" fill="#f29a9a"/>
<rect x="74.79" y="175.12" width="9.04" height="7.92" fill="#ef4646"/>
<rect x="83.33" y="175.12" width="9.04" height="7.92" fill="#ef4646"/>
<rect x="91.88" y="175.12" width="9.04" height="7.92" fill="#cfd1ea"/>
<rect x="100.42" y="175.12" width="9.04" height="7.92" fill="#cfd1ea"/>
<rect x="108.96" y="175.12" width="9.04" height="7.92" fill="#cfd1ea"/>
<rect x="15.00" y="182.55" width="9.04" height="7.92" fill="#4a57b3"/>
<rect x="23.54" y="182.55" width="9.04" height="7.92" fill="#6b73c2"/>
<rect x="32.08" y="182.55" width="9.04" height="7.92" fill="#cfd1ea"/>
<rect x="40.62" y="182.55" width="9.04" height="7.92" fill="#6b73c2"/>
<rect x="49.17" y="182.55" width="9.04" height="7.92" fill="#f29a9a"/>
<rect x="57.71" y="182.55" width="9.04" height="7.92" fill="#6b73c2"/>
<rect x="66.25" y="182.55" width="9.04" height="7.92" fill="#f6c6c6"/>
<rect x="74.79" y="182.55" width="9.04" height="7.92" fill="#ef4646"/>
<rect x="83.33" y="182.55" width="9.04" height="7.92" fill="#ef4646"/>
<rect x="91.88" y="182.55" width="9.04" height="7.92" fill="#6b73c2"/>
<rect x="100.42" y="182.55" width="9.04" height="7.92" fill="#9ea4d6"/>
<rect x="108.96" y="182.55" width="9.04" height="7.92" fill="#cfd1ea"/>
<rect x="15.00" y="189.97" width="9.04" height="7.92" fill="#6b73c2"/>
<rect x="23.54" y="189.97" width="9.04" height="7.92" fill="#6b73c2"/>
<rect x="32.08" y="189.97" width="9.04" height="7.92" fill="#4a57b3"/>
<rect x="40.62" y="189.97" width="9.04" height="7.92" fill="#6b73c2"/>
<rect x="49.17" y="189.97" width="9.04" height="7.92" fill="#f2f2f9"/>
<rect x="57.71" y="189.97" width="9.04" height="7.92" fill="#6b73c2"/>
<rect x="66.25" y="189.97" width="9.04" height="7.92" fill="#f6c6c6"/>
<rect x="74.79" y="189.97" width="9.04" height="7.92" fill="#ef4646"/>
<rect x="83.33" y="189.97" width="9.04" height="7.92" fill="#ef4646"/>
<rect x="91.88" y="189.97" width="9.04" height="7.92" fill="#cfd1ea"/>
<rect x="100.42" y="189.97" width="9.04" height="7.92" fill="#f2f2f9"/>
<rect x="108.96" y="189.97" width="9.04" height="7.92" fill="#cfd1ea"/>
<rect x="15.00" y="197.40" width="9.04" height="7.92" fill="#cfd1ea"/>
<rect x="23.54" y="197.40" width="9.04" height="7.92" fill="#cfd1ea"/>
<rect x="32.08" y="197.40" width="9.04" height="7.92" fill="#f2f2f9"/>
<rect x="40.62" y="197.40" width="9.04" height="7.92" fill="#4a57b3"/>
<rect x="49.17" y="197.40" width="9.04" height="7.92" fill="#cfd1ea"/>
<rect x="57.71" y="197.40" width="9.04" height="7.92" fill="#4a57b3"/>
<rect x="66.25" y="197.40" width="9.04" height="7.92" fill="#f29a9a"/>
<rect x="74.79" y="197.40" width="9.04" height="7.92" fill="#ef4646"/>
<rect x="83.33" y="197.40" width="9.04" height="7.92" fill="#ef4646"/>
<rect x="91.88" y="197.40" width="9.04" height="7.92" fill="#6b73c2"/>
<rect x="100.42" y="197.40" width="9.04" height="7.92" fill="#6b73c2"/>
<rect x="108.96" y="197.40" width="9.04" height="7.92" fill="#cfd1ea"/>
<rect x="15.00" y="204.82" width="9.04" height="7.92" fill="#9ea4d6"/>
<rect x="23.54" y="204.82" width="9.04" height="7.92" fill="#6b73c2"/>
<rect x="32.08" y="204.82" width="9.04" height="7.92" fill="#9ea4d6"/>
<rect x="40.62" y="204.82" width="9.04" height="7.92" fill="#cfd1ea"/>
<rect x="49.17" y="204.82" width="9.04" height="7.92" fill="#cfd1ea"/>
<rect x="57.71" y="204.82" width="9.04" height="7.92" fill="#9ea4d6"/>
<rect x="66.25" y="204.82" width="9.04" height="7.92" fill="#f29a9a"/>
<rect x="74.79" y="204.82" width="9.04" height="7.92" fill="#ef4646"/>
<rect x="83.33" y="204.82" width="9.04" height="7.92" fill="#ef4646"/>
<rect x="91.88" y="204.82" width="9.04" height="7.92" fill="#6b73c2"/>
<rect x="100.42" y="204.82" width="9.04" height="7.92" fill="#4a57b3"/>
<rect x="108.96" y="204.82" width="9.04" height="7.92" fill="#4a57b3"/>
<rect x="15.00" y="212.25" width="9.04" height="7.92" fill="#6b73c2"/>
<rect x="23.54" y="212.25" width="9.04" height="7.92" fill="#6b73c2"/>
<rect x="32.08" y="212.25" width="9.04" height="7.92" fill="#6b73c2"/>
<rect x="40.62" y="212.25" width="9.04" height="7.92" fill="#4a57b3"/>
<rect x="49.17" y="212.25" width="9.04" height="7.92" fill="#4a57b3"/>
<rect x="57.71" y="212.25" width="9.04" height="7.92" fill="#9ea4d6"/>
<rect x="66.25" y="212.25" width="9.04" height="7.92" fill="#f29a9a"/>
<rect x="74.79" y="212.25" width="9.04" height="7.92" fill="#ef4646"/>
<rect x="83.33" y="212.25" width="9.04" height="7.92" fill="#f07474"/>
<rect x="91.88" y="212.25" width="9.04" height="7.92" fill="#f2f2f9"/>
<rect x="100.42" y="212.25" width="9.04" height="7.92" fill="#cfd1ea"/>
<rect x="108.96" y="212.25" width="9.04" height="7.92" fill="#cfd1ea"/>
<rect x="15.00" y="219.68" width="9.04" height="7.92" fill="#cfd1ea"/>
<rect x="23.54" y="219.68" width="9.04" height="7.92" fill="#9ea4d6"/>
<rect x="32.08" y="219.68" width="9.04" height="7.92" fill="#f2f2f9"/>
<rect x="40.62" y="219.68" width="9.04" height="7.92" fill="#f2f2f9"/>
<rect x="49.17" y="219.68" width="9.04" height="7.92" fill="#f2f2f9"/>
<rect x="57.71" y="219.68" width="9.04" height="7.92" fill="#f2f2f9"/>
<rect x="66.25" y="219.68" width="9.04" height="7.92" fill="#f6c6c6"/>
<rect x="74.79" y="219.68" width="9.04" height="7.92" fill="#f07474"/>
<rect x="83.33" y="219.68" width="9.04" height="7.92" fill="#f29a9a"/>
<rect x="91.88" y="219.68" width="9.04" height="7.92" fill="#4a57b3"/>
<rect x="100.42" y="219.68" width="9.04" height="7.92" fill="#4a57b3"/>
<rect x="108.96" y="219.68" width="9.04" height="7.92" fill="#4a57b3"/>
<rect x="15.00" y="227.10" width="9.04" height="7.92" fill="#9ea4d6"/>
<rect x="23.54" y="227.10" width="9.04" height="7.92" fill="#6b73c2"/>
<rect x="32.08" y="227.10" width="9.04" height="7.92" fill="#6b73c2"/>
<rect x="40.62" y="227.10" width="9.04" height="7.92" fill="#6b73c2"/>
<rect x="49.17" y="227.10" width="9.04" height="7.92" fill="#cfd1ea"/>
<rect x="57.71" y="227.10" width="9.04" height="7.92" fill="#6b73c2"/>
<rect x="66.25" y="227.10" width="9.04" height="7.92" fill="#f29a9a"/>
<rect x="74.79" y="227.10" width="9.04" height="7.92" fill="#ec2c2c"/>
<rect x="83.33" y="227.10" width="9.04" height="7.92" fill="#ef4646"/>
<rect x="91.88" y="227.10" width="9.04" height="7.92" fill="#9ea4d6"/>
<rect x="100.42" y="227.10" width="9.04" height="7.92" fill="#6b73c2"/>
<rect x="108.96" y="227.10" width="9.04" height="7.92" fill="#cfd1ea"/>
<rect x="15.00" y="234.52" width="9.04" height="7.92" fill="#9ea4d6"/>
<rect x="23.54" y="234.52" width="9.04" height="7.92" fill="#4a57b3"/>
<rect x="32.08" y="234.52" width="9.04" height="7.92" fill="#6b73c2"/>
<rect x="40.62" y="234.52" width="9.04" height="7.92" fill="#6b73c2"/>
<rect x="49.17" y="234.52" width="9.04" height="7.92" fill="#6b73c2"/>
<rect x="57.71" y="234.52" width="9.04" height="7.92" fill="#f2f2f9"/>
<rect x="66.25" y="234.52" width="9.04" height="7.92" fill="#f6c6c6"/>
<rect x="74.79" y="234.52" width="9.04" height="7.92" fill="#ef4646"/>
<rect x="83.33" y="234.52" width="9.04" height="7.92" fill="#ef4646"/>
<rect x="91.88" y="234.52" width="9.04" height="7.92" fill="#cfd1ea"/>
<rect x="100.42" y="234.52" width="9.04" height="7.92" fill="#cfd1ea"/>
<rect x="108.96" y="234.52" width="9.04" height="7.92" fill="#cfd1ea"/>
<rect x="15.00" y="241.95" width="9.04" height="7.92" fill="#9ea4d6"/>
<rect x="23.54" y="241.95" width="9.04" height="7.92" fill="#6b73c2"/>
<rect x="32.08" y="241.95" width="9.04" height="7.92" fill="#6b73c2"/>
<rect x="40.62" y="241.95" width="9.04" height="7.92" fill="#6b73c2"/>
<rect x="49.17" y="241.95" width="9.04" height="7.92" fill="#4a57b3"/>
<rect x="57.71" y="241.95" width="9.04" height="7.92" fill="#6b73c2"/>
<rect x="66.25" y="241.95" width="9.04" height="7.92" fill="#f29a9a"/>
<rect x="74.79" y="241.95" width="9.04" height="7.92" fill="#ef4646"/>
<rect x="83.33" y="241.95" width="9.04" height="7.92" fill="#ef4646"/>
<rect x="91.88" y="241.95" width="9.04" height="7.92" fill="#f2f2f9"/>
<rect x="100.42" y="241.95" width="9.04" height="7.92" fill="#cfd1ea"/>
<rect x="108.96" y="241.95" width="9.04" height="7.92" fill="#f2f2f9"/>
<rect x="15.00" y="249.38" width="9.04" height="7.92" fill="#9ea4d6"/>
<rect x="23.54" y="249.38" width="9.04" height="7.92" fill="#9ea4d6"/>
<rect x="32.08" y="249.38" width="9.04" height="7.92" fill="#6b73c2"/>
<rect x="40.62" y="249.38" width="9.04" height="7.92" fill="#6b73c2"/>
<rect x="49.17" y="249.38" width="9.04" height="7.92" fill="#6b73c2"/>
<rect x="57.71" y="249.38" width="9.04" height="7.92" fill="#6b73c2"/>
<rect x="66.25" y="249.38" width="9.04" height="7.92" fill="#f6c6c6"/>
<rect x="74.79" y="249.38" width="9.04" height="7.92" fill="#ef4646"/>
<rect x="83.33" y="249.38" width="9.04" height="7.92" fill="#ef4646"/>
<rect x="91.88" y="249.38" width="9.04" height="7.92" fill="#f8dede"/>
<rect x="100.42" y="249.38" width="9.04" height="7.92" fill="#f8dede"/>
<rect x="108.96" y="249.38" width="9.04" height="7.92" fill="#f2f2f9"/>
<rect x="15.00" y="256.80" width="9.04" height="7.92" fill="#4a57b3"/>
<rect x="23.54" y="256.80" width="9.04" height="7.92" fill="#4a57b3"/>
<rect x="32.08" y="256.80" width="9.04" height="7.92" fill="#9ea4d6"/>
<rect x="40.62" y="256.80" width="9.04" height="7.92" fill="#f2f2f9"/>
<rect x="49.17" y="256.80" width="9.04" height="7.92" fill="#ec2c2c"/>
<rect x="57.71" y="256.80" width="9.04" height="7.92" fill="#4a57b3"/>
<rect x="66.25" y="256.80" width="9.04" height="7.92" fill="#f2f2f9"/>
<rect x="74.79" y="256.80" width="9.04" height="7.92" fill="#ec2c2c"/>
<rect x="83.33" y="256.80" width="9.04" height="7.92" fill="#ef4646"/>
<rect x="91.88" y="256.80" width="9.04" height="7.92" fill="#9ea4d6"/>
<rect x="100.42" y="256.80" width="9.04" height="7.92" fill="#4a57b3"/>
<rect x="108.96" y="256.80" width="9.04" height="7.92" fill="#9ea4d6"/>
<rect x="15.00" y="264.23" width="9.04" height="7.92" fill="#6b73c2"/>
<rect x="23.54" y="264.23" width="9.04" height="7.92" fill="#6b73c2"/>
<rect x="32.08" y="264.23" width="9.04" height="7.92" fill="#6b73c2"/>
<rect x="40.62" y="264.23" width="9.04" height="7.92" fill="#4a57b3"/>
<rect x="49.17" y="264.23" width="9.04" height="7.92" fill="#4a57b3"/>
<rect x="57.71" y="264.23" width="9.04" height="7.92" fill="#6b73c2"/>
<rect x="66.25" y="264.23" width="9.04" height="7.92" fill="#f29a9a"/>
<rect x="74.79" y="264.23" width="9.04" height="7.92" fill="#ec2c2c"/>
<rect x="83.33" y="264.23" width="9.04" height="7.92" fill="#ef4646"/>
<rect x="91.88" y="264.23" width="9.04" height="7.92" fill="#f2f2f9"/>
<rect x="100.42" y="264.23" width="9.04" height="7.92" fill="#f2f2f9"/>
<rect x="108.96" y="264.23" width="9.04" height="7.92" fill="#f2f2f9"/>
<rect x="15.00" y="271.65" width="9.04" height="7.92" fill="#9ea4d6"/>
<rect x="23.54" y="271.65" width="9.04" height="7.92" fill="#6b73c2"/>
<rect x="32.08" y="271.65" width="9.04" height="7.92" fill="#6b73c2"/>
<rect x="40.62" y="271.65" width="9.04" height="7.92" fill="#6b73c2"/>
<rect x="49.17" y="271.65" width="9.04" height="7.92" fill="#4a57b3"/>
<rect x="57.71" y="271.65" width="9.04" height="7.92" fill="#9ea4d6"/>
<rect x="66.25" y="271.65" width="9.04" height="7.92" fill="#f29a9a"/>
<rect x="74.79" y="271.65" width="9.04" height="7.92" fill="#ec2c2c"/>
<rect x="83.33" y="271.65" width="9.04" height="7.92" fill="#ef4646"/>
<rect x="91.88" y="271.65" width="9.04" height="7.92" fill="#f2f2f9"/>
<rect x="100.42" y="271.65" width="9.04" height="7.92" fill="#9ea4d6"/>
<rect x="108.96" y="271.65" width="9.04" height="7.92" fill="#9ea4d6"/>
<rect x="15.00" y="279.07" width="9.04" height="7.92" fill="#cfd1ea"/>
<rect x="23.54" y="279.07" width="9.04" height="7.92" fill="#4a57b3"/>
<rect x="32.08" y="279.07" width="9.04" height="7.92" fill="#9ea4d6"/>
<rect x="40.62" y="279.07" width="9.04" height="7.92" fill="#9ea4d6"/>
<rect x="49.17" y="279.07" width="9.04" height="7.92" fill="#4a57b3"/>
<rect x="57.71" y="279.07" width="9.04" height="7.92" fill="#f2f2f9"/>
<rect x="66.25" y="279.07" width="9.04" height="7.92" fill="#f2f2f9"/>
<rect x="74.79" y="279.07" width="9.04" height="7.92" fill="#ec2c2c"/>
<rect x="83.33" y="279.07" width="9.04" height="7.92" fill="#ef4646"/>
<rect x="91.88" y="279.07" width="9.04" height="7.92" fill="#6b73c2"/>
<rect x="100.42" y="279.07" width="9.04" height="7.92" fill="#6b73c2"/>
<rect x="108.96" y="279.07" width="9.04" height="7.92" fill="#9ea4d6"/>
<rect x="15.00" y="286.50" width="9.04" height="7.92" fill="#6b73c2"/>
<rect x="23.54" y="286.50" width="9.04" height="7.92" fill="#6b73c2"/>
<rect x="32.08" y="286.50" width="9.04" height="7.92" fill="#4a57b3"/>
<rect x="40.62" y="286.50" width="9.04" height="7.92" fill="#9ea4d6"/>
<rect x="49.17" y="286.50" width="9.04" height="7.92" fill="#9ea4d6"/>
<rect x="57.71" y="286.50" width="9.04" height="7.92" fill="#4a57b3"/>
<rect x="66.25" y="286.50" width="9.04" height="7.92" fill="#f8dede"/>
<rect x="74.79" y="286.50" width="9.04" height="7.92" fill="#ec2c2c"/>
<rect x="83.33" y="286.50" width="9.04" height="7.92" fill="#ef4646"/>
<rect x="91.88" y="286.50" width="9.04" height="7.92" fill="#6b73c2"/>
<rect x="100.42" y="286.50" width="9.04" height="7.92" fill="#cfd1ea"/>
<rect x="108.96" y="286.50" width="9.04" height="7.92" fill="#f2f2f9"/>
<rect x="15.00" y="293.92" width="9.04" height="7.92" fill="#4a57b3"/>
<rect x="23.54" y="293.92" width="9.04" height="7.92" fill="#6b73c2"/>
<rect x="32.08" y="293.92" width="9.04" height="7.92" fill="#9ea4d6"/>
<rect x="40.62" y="293.92" width="9.04" height="7.92" fill="#4a57b3"/>
<rect x="49.17" y="293.92" width="9.04" height="7.92" fill="#6b73c2"/>
<rect x="57.71" y="293.92" width="9.04" height="7.92" fill="#6b73c2"/>
<rect x="66.25" y="293.92" width="9.04" height="7.92" fill="#f8dede"/>
<rect x="74.79" y="293.92" width="9.04" height="7.92" fill="#ec2c2c"/>
<rect x="83.33" y="293.92" width="9.04" height="7.92" fill="#ef4646"/>
<rect x="91.88" y="293.92" width="9.04" height="7.92" fill="#9ea4d6"/>
<rect x="100.42" y="293.92" width="9.04" height="7.92" fill="#6b73c2"/>
<rect x="108.96" y="293.92" width="9.04" height="7.92" fill="#f2f2f9"/>
<rect x="15.00" y="301.35" width="9.04" height="7.92" fill="#6b73c2"/>
<rect x="23.54" y="301.35" width="9.04" height="7.92" fill="#cfd1ea"/>
<rect x="32.08" y="301.35" width="9.04" height="7.92" fill="#4a57b3"/>
<rect x="40.62" y="301.35" width="9.04" height="7.92" fill="#cfd1ea"/>
<rect x="49.17" y="301.35" width="9.04" height="7.92" fill="#6b73c2"/>
<rect x="57.71" y="301.35" width="9.04" height="7.92" fill="#f2f2f9"/>
<rect x="66.25" y="301.35" width="9.04" height="7.92" fill="#cfd1ea"/>
<rect x="74.79" y="301.35" width="9.04" height="7.92" fill="#ec2c2c"/>
<rect x="83.33" y="301.35" width="9.04" height="7.92" fill="#f07474"/>
<rect x="91.88" y="301.35" width="9.04" height="7.92" fill="#6b73c2"/>
<rect x="100.42" y="301.35" width="9.04" height="7.92" fill="#4a57b3"/>
<rect x="108.96" y="301.35" width="9.04" height="7.92" fill="#f2f2f9"/>
<rect x="15.00" y="308.77" width="9.04" height="7.92" fill="#f2f2f9"/>
<rect x="23.54" y="308.77" width="9.04" height="7.92" fill="#6b73c2"/>
<rect x="32.08" y="308.77" width="9.04" height="7.92" fill="#cfd1ea"/>
<rect x="40.62" y="308.77" width="9.04" height="7.92" fill="#4a57b3"/>
<rect x="49.17" y="308.77" width="9.04" height="7.92" fill="#4a57b3"/>
<rect x="57.71" y="308.77" width="9.04" height="7.92" fill="#f2f2f9"/>
<rect x="66.25" y="308.77" width="9.04" height="7.92" fill="#f6c6c6"/>
<rect x="74.79" y="308.77" width="9.04" height="7.92" fill="#ec2c2c"/>
<rect x="83.33" y="308.77" width="9.04" height="7.92" fill="#ef4646"/>
<rect x="91.88" y="308.77" width="9.04" height="7.92" fill="#cfd1ea"/>
<rect x="100.42" y="308.77" width="9.04" height="7.92" fill="#cfd1ea"/>
<rect x="108.96" y="308.77" width="9.04" height="7.92" fill="#4a57b3"/>
</g>
<rect x="15.00" y="135.1" width="25.82" height="2.9" fill="#111"/>
<rect x="40.62" y="135.1" width="25.82" height="2.9" fill="#2e8fd0"/>
<rect x="66.25" y="135.1" width="25.82" height="2.9" fill="#e8202a"/>
<rect x="91.88" y="135.1" width="25.82" height="2.9" fill="#1a2a8a"/>
<text x="119.30" y="144.21" font-size="7.1" text-anchor="start" fill="#231f20" font-weight="normal" font-style="normal"  stroke="#231f20" stroke-width="0.26">Cd3γ</text>
<text x="119.30" y="151.64" font-size="7.1" text-anchor="start" fill="#231f20" font-weight="normal" font-style="normal"  stroke="#231f20" stroke-width="0.26">Il2rα</text>
<text x="119.30" y="159.06" font-size="7.1" text-anchor="start" fill="#231f20" font-weight="normal" font-style="normal"  stroke="#231f20" stroke-width="0.26">Cd3ε</text>
<text x="119.30" y="166.49" font-size="7.1" text-anchor="start" fill="#231f20" font-weight="normal" font-style="normal"  stroke="#231f20" stroke-width="0.26">Cd160</text>
<text x="119.30" y="173.91" font-size="7.1" text-anchor="start" fill="#231f20" font-weight="normal" font-style="normal"  stroke="#231f20" stroke-width="0.26">Bcl11b</text>
<text x="119.30" y="181.34" font-size="7.1" text-anchor="start" fill="#231f20" font-weight="normal" font-style="normal"  stroke="#231f20" stroke-width="0.26">Tcf7</text>
<text x="119.30" y="188.76" font-size="7.1" text-anchor="start" fill="#231f20" font-weight="normal" font-style="normal"  stroke="#231f20" stroke-width="0.26">Cd3d</text>
<text x="119.30" y="196.19" font-size="7.1" text-anchor="start" fill="#231f20" font-weight="normal" font-style="normal"  stroke="#231f20" stroke-width="0.26">Rasgrp1</text>
<text x="119.30" y="203.61" font-size="7.1" text-anchor="start" fill="#231f20" font-weight="normal" font-style="normal"  stroke="#231f20" stroke-width="0.26">Themis</text>
<text x="119.30" y="211.04" font-size="7.1" text-anchor="start" fill="#231f20" font-weight="normal" font-style="normal"  stroke="#231f20" stroke-width="0.26">Slamf6</text>
<text x="119.30" y="218.46" font-size="7.1" text-anchor="start" fill="#231f20" font-weight="normal" font-style="normal"  stroke="#231f20" stroke-width="0.26">Cd5</text>
<text x="119.30" y="225.89" font-size="7.1" text-anchor="start" fill="#231f20" font-weight="normal" font-style="normal"  stroke="#231f20" stroke-width="0.26">Il7r</text>
<text x="119.30" y="233.31" font-size="7.1" text-anchor="start" fill="#231f20" font-weight="normal" font-style="normal"  stroke="#231f20" stroke-width="0.26">Grap2</text>
<text x="119.30" y="240.74" font-size="7.1" text-anchor="start" fill="#231f20" font-weight="normal" font-style="normal"  stroke="#231f20" stroke-width="0.26">Rag1</text>
<text x="119.30" y="248.16" font-size="7.1" text-anchor="start" fill="#231f20" font-weight="normal" font-style="normal"  stroke="#231f20" stroke-width="0.26">Cd6</text>
<text x="119.30" y="255.59" font-size="7.1" text-anchor="start" fill="#231f20" font-weight="normal" font-style="normal"  stroke="#231f20" stroke-width="0.26">Thy1</text>
<text x="119.30" y="263.01" font-size="7.1" text-anchor="start" fill="#231f20" font-weight="normal" font-style="normal"  stroke="#231f20" stroke-width="0.26">Sema4a</text>
<text x="119.30" y="270.44" font-size="7.1" text-anchor="start" fill="#231f20" font-weight="normal" font-style="normal"  stroke="#231f20" stroke-width="0.26">Dpp4</text>
<text x="119.30" y="277.86" font-size="7.1" text-anchor="start" fill="#231f20" font-weight="normal" font-style="normal"  stroke="#231f20" stroke-width="0.26">Gata3</text>
<text x="119.30" y="285.29" font-size="7.1" text-anchor="start" fill="#231f20" font-weight="normal" font-style="normal"  stroke="#231f20" stroke-width="0.26">Rag2</text>
<text x="119.30" y="292.71" font-size="7.1" text-anchor="start" fill="#231f20" font-weight="normal" font-style="normal"  stroke="#231f20" stroke-width="0.26">Lig4</text>
<text x="119.30" y="300.14" font-size="7.1" text-anchor="start" fill="#231f20" font-weight="normal" font-style="normal"  stroke="#231f20" stroke-width="0.26">Nck2</text>
<text x="119.30" y="307.56" font-size="7.1" text-anchor="start" fill="#231f20" font-weight="normal" font-style="normal"  stroke="#231f20" stroke-width="0.26">Socs1</text>
<text x="119.30" y="314.99" font-size="7.1" text-anchor="start" fill="#231f20" font-weight="normal" font-style="normal"  stroke="#231f20" stroke-width="0.26">Sla2</text>
<text transform="translate(15.8,131.2) rotate(-25)" font-size="7.6" text-anchor="start" fill="#231f20" font-style="normal" stroke="#231f20" stroke-width="0.26">Controls</text>
<text transform="translate(42.3,129.0) rotate(-25)" font-size="7.6" text-anchor="start" fill="#2ea3e3" font-style="italic" stroke="#2ea3e3" stroke-width="0.26">Tcf7<tspan font-size="5" dy="-2.8">Δ/Δ</tspan></text>
<text transform="translate(66.6,131.2) rotate(-25)" font-size="7.6" text-anchor="start" fill="#c8102e" font-style="italic" stroke="#c8102e" stroke-width="0.26">N1IC</text>
<text transform="translate(93.1,131.2) rotate(-25)" font-size="7.6" text-anchor="start" fill="#335279" font-style="italic" stroke="#335279" stroke-width="0.26">N1IC Tcf7<tspan font-size="5" dy="-2.8">Δ/Δ</tspan></text>
<defs><linearGradient id="cb" x1="0" y1="0" x2="0" y2="1"><stop offset="0" stop-color="#e3191f"/><stop offset="0.56" stop-color="#ffffff"/><stop offset="1" stop-color="#2f4ca6"/></linearGradient></defs>
<rect x="159.2" y="253" width="3.9" height="62.6" fill="url(#cb)"/>
<text x="166.20" y="259.60" font-size="7.6" text-anchor="start" fill="#231f20" font-weight="normal" font-style="normal"  stroke="#231f20" stroke-width="0.26">2</text>
<text x="166.20" y="267.20" font-size="7.6" text-anchor="start" fill="#231f20" font-weight="normal" font-style="normal"  stroke="#231f20" stroke-width="0.26">1.5</text>
<text x="166.20" y="274.00" font-size="7.6" text-anchor="start" fill="#231f20" font-weight="normal" font-style="normal"  stroke="#231f20" stroke-width="0.26">1</text>
<text x="166.20" y="282.20" font-size="7.6" text-anchor="start" fill="#231f20" font-weight="normal" font-style="normal"  stroke="#231f20" stroke-width="0.26">0.5</text>
<text x="166.20" y="290.30" font-size="7.6" text-anchor="start" fill="#231f20" font-weight="normal" font-style="normal"  stroke="#231f20" stroke-width="0.26">0</text>
<text x="166.20" y="298.90" font-size="7.6" text-anchor="start" fill="#231f20" font-weight="normal" font-style="normal"  stroke="#231f20" stroke-width="0.26">−0.5</text>
<text x="166.20" y="306.60" font-size="7.6" text-anchor="start" fill="#231f20" font-weight="normal" font-style="normal"  stroke="#231f20" stroke-width="0.26">−1</text>
<text x="166.20" y="315.30" font-size="7.6" text-anchor="start" fill="#231f20" font-weight="normal" font-style="normal"  stroke="#231f20" stroke-width="0.26">−1.5</text>
<text x="273.5" y="131" font-size="9.6" fill="#231f20" stroke="#231f20" stroke-width="0.16">GOBP induced by <tspan font-style="italic" fill="#c8102e" stroke="#c8102e" stroke-width="0.26">N1IC</tspan> but not in <tspan font-style="italic" fill="#335279" stroke="#335279" stroke-width="0.26">N1IC Tcf7</tspan><tspan font-size="6" dy="-3.6" fill="#335279" font-style="italic" stroke="#335279" stroke-width="0.26">Δ/Δ</tspan></text>
<rect x="373.0" y="137.70" width="139.78" height="6.8" fill="#c8102e"/>
<text x="370.3" y="143.70" font-size="7.7" text-anchor="end" fill="#231f20" stroke="#231f20" stroke-width="0.2" textLength="51.2" lengthAdjust="spacingAndGlyphs">T cell activation</text>
<rect x="373.0" y="145.60" width="138.36" height="6.8" fill="#c8102e"/>
<text x="370.3" y="151.60" font-size="7.7" text-anchor="end" fill="#231f20" stroke="#231f20" stroke-width="0.2" textLength="74.3" lengthAdjust="spacingAndGlyphs">Lymphocyte activation</text>
<rect x="373.0" y="153.50" width="129.18" height="6.8" fill="#c8102e"/>
<text x="370.3" y="159.50" font-size="7.7" text-anchor="end" fill="#231f20" stroke="#231f20" stroke-width="0.2" textLength="163.5" lengthAdjust="spacingAndGlyphs">Positive regulation of leukocyte cell-cell adhesion</text>
<rect x="373.0" y="161.40" width="117.17" height="6.8" fill="#c8102e"/>
<text x="370.3" y="167.40" font-size="7.7" text-anchor="end" fill="#231f20" stroke="#231f20" stroke-width="0.2" textLength="129.7" lengthAdjust="spacingAndGlyphs">Positive regulation of cell-cell adhesion</text>
<rect x="373.0" y="169.30" width="112.15" height="6.8" fill="#c8102e"/>
<text x="370.3" y="175.30" font-size="7.7" text-anchor="end" fill="#231f20" stroke="#231f20" stroke-width="0.2" textLength="151.7" lengthAdjust="spacingAndGlyphs">Positive regulation of immune system process</text>
<rect x="373.0" y="177.20" width="111.93" height="6.8" fill="#c8102e"/>
<text x="370.3" y="183.20" font-size="7.7" text-anchor="end" fill="#231f20" stroke="#231f20" stroke-width="0.2" textLength="66.4" lengthAdjust="spacingAndGlyphs">T cell differentiation</text>
<rect x="373.0" y="185.10" width="106.36" height="6.8" fill="#c8102e"/>
<text x="370.3" y="191.10" font-size="7.7" text-anchor="end" fill="#231f20" stroke="#231f20" stroke-width="0.2" textLength="100.5" lengthAdjust="spacingAndGlyphs">T cell differentiation in thymus</text>
<rect x="373.0" y="193.00" width="104.18" height="6.8" fill="#c8102e"/>
<text x="370.3" y="199.00" font-size="7.7" text-anchor="end" fill="#231f20" stroke="#231f20" stroke-width="0.2" textLength="89.5" lengthAdjust="spacingAndGlyphs">Lymphocyte differentiation</text>
<rect x="373.0" y="200.90" width="103.30" height="6.8" fill="#c8102e"/>
<text x="370.3" y="206.90" font-size="7.7" text-anchor="end" fill="#231f20" stroke="#231f20" stroke-width="0.2" textLength="89.9" lengthAdjust="spacingAndGlyphs">Regulation of cell adhesion</text>
<rect x="373.0" y="208.80" width="96.75" height="6.8" fill="#c8102e"/>
<text x="370.3" y="214.80" font-size="7.7" text-anchor="end" fill="#231f20" stroke="#231f20" stroke-width="0.2" textLength="78.8" lengthAdjust="spacingAndGlyphs">Leukocyte cell adhesion</text>
<rect x="373.0" y="216.70" width="94.13" height="6.8" fill="#c8102e"/>
<text x="370.3" y="222.70" font-size="7.7" text-anchor="end" fill="#231f20" stroke="#231f20" stroke-width="0.2" textLength="46.6" lengthAdjust="spacingAndGlyphs">Cell activation</text>
<rect x="373.0" y="224.60" width="93.15" height="6.8" fill="#c8102e"/>
<text x="370.3" y="230.60" font-size="7.7" text-anchor="end" fill="#231f20" stroke="#231f20" stroke-width="0.2" textLength="115.7" lengthAdjust="spacingAndGlyphs">Positive regulation of cell adhesion</text>
<rect x="373.0" y="232.50" width="92.49" height="6.8" fill="#c8102e"/>
<text x="370.3" y="238.50" font-size="7.7" text-anchor="end" fill="#231f20" stroke="#231f20" stroke-width="0.2" textLength="82.5" lengthAdjust="spacingAndGlyphs">Leukocyte differentiation</text>
<rect x="373.0" y="240.40" width="91.84" height="6.8" fill="#c8102e"/>
<text x="370.3" y="246.40" font-size="7.7" text-anchor="end" fill="#231f20" stroke="#231f20" stroke-width="0.2" textLength="89.9" lengthAdjust="spacingAndGlyphs">Regulation of cell adhesion</text>
<rect x="373.0" y="248.30" width="88.12" height="6.8" fill="#c8102e"/>
<text x="370.3" y="254.30" font-size="7.7" text-anchor="end" fill="#231f20" stroke="#231f20" stroke-width="0.2" textLength="144.9" lengthAdjust="spacingAndGlyphs">Positive regulation of lymphocyte activation</text>
<rect x="373.0" y="256.20" width="85.94" height="6.8" fill="#c8102e"/>
<text x="370.3" y="262.20" font-size="7.7" text-anchor="end" fill="#231f20" stroke="#231f20" stroke-width="0.2" textLength="117.8" lengthAdjust="spacingAndGlyphs">Positive regulation of cell activation</text>
<rect x="373.0" y="264.10" width="83.21" height="6.8" fill="#c8102e"/>
<text x="370.3" y="270.10" font-size="7.7" text-anchor="end" fill="#231f20" stroke="#231f20" stroke-width="0.2" textLength="152.3" lengthAdjust="spacingAndGlyphs">Antigen receptor mediated signaling pathway</text>
<rect x="373.0" y="272.00" width="80.81" height="6.8" fill="#c8102e"/>
<text x="370.3" y="278.00" font-size="7.7" text-anchor="end" fill="#231f20" stroke="#231f20" stroke-width="0.2" textLength="67.7" lengthAdjust="spacingAndGlyphs">V D J recombination</text>
<rect x="373.0" y="279.90" width="79.93" height="6.8" fill="#c8102e"/>
<text x="370.3" y="285.90" font-size="7.7" text-anchor="end" fill="#231f20" stroke="#231f20" stroke-width="0.2" textLength="119.1" lengthAdjust="spacingAndGlyphs">Regulation of lymphocyte activation</text>
<rect x="373.0" y="287.80" width="77.97" height="6.8" fill="#c8102e"/>
<text x="370.3" y="293.80" font-size="7.7" text-anchor="end" fill="#231f20" stroke="#231f20" stroke-width="0.2" textLength="109.0" lengthAdjust="spacingAndGlyphs">T cell receptor signaling pathway</text>
<line x1="373.0" y1="136.5" x2="373.0" y2="301.2" stroke="#111" stroke-width="1"/>
<line x1="372.5" y1="300.8" x2="504.53999999999996" y2="300.8" stroke="#111" stroke-width="1"/>
<line x1="373.00" y1="300.8" x2="373.00" y2="303" stroke="#111" stroke-width="0.8"/>
<text x="373.00" y="313.00" font-size="7.8" text-anchor="middle" fill="#231f20" font-weight="normal" font-style="normal"  stroke="#231f20" stroke-width="0.26">0</text>
<line x1="394.84" y1="300.8" x2="394.84" y2="303" stroke="#111" stroke-width="0.8"/>
<text x="394.84" y="313.00" font-size="7.8" text-anchor="middle" fill="#231f20" font-weight="normal" font-style="normal"  stroke="#231f20" stroke-width="0.26">2</text>
<line x1="416.68" y1="300.8" x2="416.68" y2="303" stroke="#111" stroke-width="0.8"/>
<text x="416.68" y="313.00" font-size="7.8" text-anchor="middle" fill="#231f20" font-weight="normal" font-style="normal"  stroke="#231f20" stroke-width="0.26">4</text>
<line x1="438.52" y1="300.8" x2="438.52" y2="303" stroke="#111" stroke-width="0.8"/>
<text x="438.52" y="313.00" font-size="7.8" text-anchor="middle" fill="#231f20" font-weight="normal" font-style="normal"  stroke="#231f20" stroke-width="0.26">6</text>
<line x1="460.36" y1="300.8" x2="460.36" y2="303" stroke="#111" stroke-width="0.8"/>
<text x="460.36" y="313.00" font-size="7.8" text-anchor="middle" fill="#231f20" font-weight="normal" font-style="normal"  stroke="#231f20" stroke-width="0.26">8</text>
<line x1="482.20" y1="300.8" x2="482.20" y2="303" stroke="#111" stroke-width="0.8"/>
<text x="482.20" y="313.00" font-size="7.8" text-anchor="middle" fill="#231f20" font-weight="normal" font-style="normal"  stroke="#231f20" stroke-width="0.26">10</text>
<line x1="504.04" y1="300.8" x2="504.04" y2="303" stroke="#111" stroke-width="0.8"/>
<text x="504.04" y="313.00" font-size="7.8" text-anchor="middle" fill="#231f20" font-weight="normal" font-style="normal"  stroke="#231f20" stroke-width="0.26">12</text>
<text x="438.5" y="322" font-size="7.8" text-anchor="middle" fill="#231f20" stroke="#231f20" stroke-width="0.26">-log<tspan font-size="5.2" dy="2">10</tspan><tspan dy="-2">(P)</tspan></text>
<line x1="36.4" y1="355.8" x2="36.4" y2="429.7" stroke="#111" stroke-width="1"/>
<line x1="35.9" y1="429.2" x2="139" y2="429.2" stroke="#111" stroke-width="1"/>
<line x1="33.1" y1="429.20" x2="36.4" y2="429.20" stroke="#111" stroke-width="0.8"/>
<text x="30.60" y="431.80" font-size="7.8" text-anchor="end" fill="#231f20" font-weight="normal" font-style="normal"  stroke="#231f20" stroke-width="0.26">0</text>
<line x1="33.1" y1="411.60" x2="36.4" y2="411.60" stroke="#111" stroke-width="0.8"/>
<text x="30.60" y="414.20" font-size="7.8" text-anchor="end" fill="#231f20" font-weight="normal" font-style="normal"  stroke="#231f20" stroke-width="0.26">100</text>
<line x1="33.1" y1="394.00" x2="36.4" y2="394.00" stroke="#111" stroke-width="0.8"/>
<text x="30.60" y="396.60" font-size="7.8" text-anchor="end" fill="#231f20" font-weight="normal" font-style="normal"  stroke="#231f20" stroke-width="0.26">200</text>
<line x1="33.1" y1="376.40" x2="36.4" y2="376.40" stroke="#111" stroke-width="0.8"/>
<text x="30.60" y="379.00" font-size="7.8" text-anchor="end" fill="#231f20" font-weight="normal" font-style="normal"  stroke="#231f20" stroke-width="0.26">300</text>
<line x1="33.1" y1="358.80" x2="36.4" y2="358.80" stroke="#111" stroke-width="0.8"/>
<text x="30.60" y="361.40" font-size="7.8" text-anchor="end" fill="#231f20" font-weight="normal" font-style="normal"  stroke="#231f20" stroke-width="0.26">400</text>
<line x1="52" y1="429.2" x2="52" y2="431.2" stroke="#111" stroke-width="0.8"/>
<line x1="76.6" y1="429.2" x2="76.6" y2="431.2" stroke="#111" stroke-width="0.8"/>
<line x1="101.2" y1="429.2" x2="101.2" y2="431.2" stroke="#111" stroke-width="0.8"/>
<line x1="125.8" y1="429.2" x2="125.8" y2="431.2" stroke="#111" stroke-width="0.8"/>
<line x1="52" y1="428.67" x2="52" y2="429.02" stroke="#333" stroke-width="0.9"/>
<line x1="48.4" y1="428.67" x2="55.6" y2="428.67" stroke="#333" stroke-width="0.9"/>
<line x1="76.6" y1="429.20" x2="76.6" y2="429.20" stroke="#333" stroke-width="0.9"/>
<line x1="73.0" y1="429.20" x2="80.19999999999999" y2="429.20" stroke="#333" stroke-width="0.9"/>
<rect x="93.60" y="382.03" width="15.2" height="47.17" fill="#c8102e"/>
<line x1="101.2" y1="368.48" x2="101.2" y2="382.03" stroke="#333" stroke-width="0.9"/>
<line x1="97.60000000000001" y1="368.48" x2="104.8" y2="368.48" stroke="#333" stroke-width="0.9"/>
<line x1="125.8" y1="428.50" x2="125.8" y2="428.85" stroke="#333" stroke-width="0.9"/>
<line x1="122.2" y1="428.50" x2="129.4" y2="428.50" stroke="#333" stroke-width="0.9"/>
<text x="98" y="349.9" font-size="9.4" font-style="italic" text-anchor="middle" fill="#231f20" stroke="#231f20" stroke-width="0.16">Tcf7</text>
<line x1="76" y1="359.3" x2="100" y2="359.3" stroke="#333" stroke-width="0.9"/>
<text x="88.00" y="359.90" font-size="7.6" text-anchor="middle" fill="#231f20" font-weight="normal" font-style="normal"  stroke="#231f20" stroke-width="0.26">**</text>
<line x1="101" y1="356.3" x2="125" y2="356.3" stroke="#333" stroke-width="0.9"/>
<text x="113.00" y="356.90" font-size="7.6" text-anchor="middle" fill="#231f20" font-weight="normal" font-style="normal"  stroke="#231f20" stroke-width="0.26">**</text>
<line x1="52.5" y1="366.3" x2="100" y2="366.3" stroke="#333" stroke-width="0.9"/>
<text x="76.25" y="366.90" font-size="7.6" text-anchor="middle" fill="#231f20" font-weight="normal" font-style="normal"  stroke="#231f20" stroke-width="0.26">**</text>
<text transform="translate(54,439.4) rotate(-30)" font-size="7.8" text-anchor="end" fill="#231f20" stroke="#231f20" stroke-width="0.26">Controls</text>
<text transform="translate(78.6,439.4) rotate(-30)" font-size="7.8" text-anchor="end" fill="#2ea3e3" font-style="italic" stroke="#2ea3e3" stroke-width="0.26">Tcf7<tspan font-size="4.8" dy="-2.6">Δ/Δ</tspan></text>
<text transform="translate(103.2,439.4) rotate(-30)" font-size="7.8" text-anchor="end" fill="#c8102e" stroke="#c8102e" stroke-width="0.26">N1IC</text>
<text transform="translate(127.8,439.4) rotate(-30)" font-size="7.8" text-anchor="end" fill="#335279" stroke="#335279" stroke-width="0.26">N1IC <tspan font-style="italic">Tcf7</tspan><tspan font-size="4.8" dy="-2.6" font-style="italic">Δ/Δ</tspan></text>
<line x1="158.7" y1="356.3" x2="158.7" y2="429.7" stroke="#111" stroke-width="1"/>
<line x1="158.2" y1="429.2" x2="261.5" y2="429.2" stroke="#111" stroke-width="1"/>
<line x1="155.39999999999998" y1="429.20" x2="158.7" y2="429.20" stroke="#111" stroke-width="0.8"/>
<text x="152.90" y="431.80" font-size="7.8" text-anchor="end" fill="#231f20" font-weight="normal" font-style="normal"  stroke="#231f20" stroke-width="0.26">0</text>
<line x1="155.39999999999998" y1="405.90" x2="158.7" y2="405.90" stroke="#111" stroke-width="0.8"/>
<text x="152.90" y="408.50" font-size="7.8" text-anchor="end" fill="#231f20" font-weight="normal" font-style="normal"  stroke="#231f20" stroke-width="0.26">100</text>
<line x1="155.39999999999998" y1="382.60" x2="158.7" y2="382.60" stroke="#111" stroke-width="0.8"/>
<text x="152.90" y="385.20" font-size="7.8" text-anchor="end" fill="#231f20" font-weight="normal" font-style="normal"  stroke="#231f20" stroke-width="0.26">200</text>
<line x1="155.39999999999998" y1="359.30" x2="158.7" y2="359.30" stroke="#111" stroke-width="0.8"/>
<text x="152.90" y="361.90" font-size="7.8" text-anchor="end" fill="#231f20" font-weight="normal" font-style="normal"  stroke="#231f20" stroke-width="0.26">300</text>
<line x1="175.6" y1="429.2" x2="175.6" y2="431.2" stroke="#111" stroke-width="0.8"/>
<line x1="199.5" y1="429.2" x2="199.5" y2="431.2" stroke="#111" stroke-width="0.8"/>
<line x1="223.8" y1="429.2" x2="223.8" y2="431.2" stroke="#111" stroke-width="0.8"/>
<line x1="247.8" y1="429.2" x2="247.8" y2="431.2" stroke="#111" stroke-width="0.8"/>
<line x1="175.6" y1="428.50" x2="175.6" y2="428.97" stroke="#333" stroke-width="0.9"/>
<line x1="172.0" y1="428.50" x2="179.2" y2="428.50" stroke="#333" stroke-width="0.9"/>
<line x1="199.5" y1="428.50" x2="199.5" y2="428.97" stroke="#333" stroke-width="0.9"/>
<line x1="195.9" y1="428.50" x2="203.1" y2="428.50" stroke="#333" stroke-width="0.9"/>
<rect x="216.20" y="383.30" width="15.2" height="45.90" fill="#c8102e"/>
<line x1="223.8" y1="368.62" x2="223.8" y2="383.30" stroke="#333" stroke-width="0.9"/>
<line x1="220.20000000000002" y1="368.62" x2="227.4" y2="368.62" stroke="#333" stroke-width="0.9"/>
<line x1="247.8" y1="428.50" x2="247.8" y2="428.97" stroke="#333" stroke-width="0.9"/>
<line x1="244.20000000000002" y1="428.50" x2="251.4" y2="428.50" stroke="#333" stroke-width="0.9"/>
<text x="209.4" y="349.9" font-size="9.4" font-style="italic" text-anchor="middle" fill="#231f20" stroke="#231f20" stroke-width="0.16">Il2rα</text>
<line x1="200.3" y1="359" x2="223.7" y2="359" stroke="#333" stroke-width="0.9"/>
<text x="212.00" y="359.60" font-size="7.6" text-anchor="middle" fill="#231f20" font-weight="normal" font-style="normal"  stroke="#231f20" stroke-width="0.26">**</text>
<line x1="225" y1="355.8" x2="248.4" y2="355.8" stroke="#333" stroke-width="0.9"/>
<text x="236.70" y="356.40" font-size="7.6" text-anchor="middle" fill="#231f20" font-weight="normal" font-style="normal"  stroke="#231f20" stroke-width="0.26">**</text>
<line x1="175.6" y1="365.7" x2="223.7" y2="365.7" stroke="#333" stroke-width="0.9"/>
<text x="199.65" y="366.30" font-size="7.6" text-anchor="middle" fill="#231f20" font-weight="normal" font-style="normal"  stroke="#231f20" stroke-width="0.26">**</text>
<text transform="translate(177.6,439.4) rotate(-30)" font-size="7.8" text-anchor="end" fill="#231f20" stroke="#231f20" stroke-width="0.26">Controls</text>
<text transform="translate(201.5,439.4) rotate(-30)" font-size="7.8" text-anchor="end" fill="#2ea3e3" font-style="italic" stroke="#2ea3e3" stroke-width="0.26">Tcf7<tspan font-size="4.8" dy="-2.6">Δ/Δ</tspan></text>
<text transform="translate(225.8,439.4) rotate(-30)" font-size="7.8" text-anchor="end" fill="#c8102e" stroke="#c8102e" stroke-width="0.26">N1IC</text>
<text transform="translate(249.8,439.4) rotate(-30)" font-size="7.8" text-anchor="end" fill="#335279" stroke="#335279" stroke-width="0.26">N1IC <tspan font-style="italic">Tcf7</tspan><tspan font-size="4.8" dy="-2.6" font-style="italic">Δ/Δ</tspan></text>
<line x1="281" y1="356.5" x2="281" y2="430.0" stroke="#111" stroke-width="1"/>
<line x1="280.5" y1="429.5" x2="385" y2="429.5" stroke="#111" stroke-width="1"/>
<line x1="277.7" y1="429.50" x2="281" y2="429.50" stroke="#111" stroke-width="0.8"/>
<text x="275.20" y="432.10" font-size="7.8" text-anchor="end" fill="#231f20" font-weight="normal" font-style="normal"  stroke="#231f20" stroke-width="0.26">0</text>
<line x1="277.7" y1="415.50" x2="281" y2="415.50" stroke="#111" stroke-width="0.8"/>
<text x="275.20" y="418.10" font-size="7.8" text-anchor="end" fill="#231f20" font-weight="normal" font-style="normal"  stroke="#231f20" stroke-width="0.26">10</text>
<line x1="277.7" y1="401.50" x2="281" y2="401.50" stroke="#111" stroke-width="0.8"/>
<text x="275.20" y="404.10" font-size="7.8" text-anchor="end" fill="#231f20" font-weight="normal" font-style="normal"  stroke="#231f20" stroke-width="0.26">20</text>
<line x1="277.7" y1="387.50" x2="281" y2="387.50" stroke="#111" stroke-width="0.8"/>
<text x="275.20" y="390.10" font-size="7.8" text-anchor="end" fill="#231f20" font-weight="normal" font-style="normal"  stroke="#231f20" stroke-width="0.26">30</text>
<line x1="277.7" y1="373.50" x2="281" y2="373.50" stroke="#111" stroke-width="0.8"/>
<text x="275.20" y="376.10" font-size="7.8" text-anchor="end" fill="#231f20" font-weight="normal" font-style="normal"  stroke="#231f20" stroke-width="0.26">40</text>
<line x1="277.7" y1="359.50" x2="281" y2="359.50" stroke="#111" stroke-width="0.8"/>
<text x="275.20" y="362.10" font-size="7.8" text-anchor="end" fill="#231f20" font-weight="normal" font-style="normal"  stroke="#231f20" stroke-width="0.26">50</text>
<line x1="297.8" y1="429.5" x2="297.8" y2="431.5" stroke="#111" stroke-width="0.8"/>
<line x1="323" y1="429.5" x2="323" y2="431.5" stroke="#111" stroke-width="0.8"/>
<line x1="348.2" y1="429.5" x2="348.2" y2="431.5" stroke="#111" stroke-width="0.8"/>
<line x1="373.2" y1="429.5" x2="373.2" y2="431.5" stroke="#111" stroke-width="0.8"/>
<rect x="290.20" y="420.40" width="15.2" height="9.10" fill="#c3c3cb"/>
<line x1="297.8" y1="419.00" x2="297.8" y2="420.40" stroke="#333" stroke-width="0.9"/>
<line x1="294.2" y1="419.00" x2="301.40000000000003" y2="419.00" stroke="#333" stroke-width="0.9"/>
<rect x="315.40" y="418.30" width="15.2" height="11.20" fill="#2ea3e3"/>
<line x1="323" y1="416.90" x2="323" y2="418.30" stroke="#333" stroke-width="0.9"/>
<line x1="319.4" y1="416.90" x2="326.6" y2="416.90" stroke="#333" stroke-width="0.9"/>
<rect x="340.60" y="381.06" width="15.2" height="48.44" fill="#c8102e"/>
<line x1="348.2" y1="372.66" x2="348.2" y2="381.06" stroke="#333" stroke-width="0.9"/>
<line x1="344.59999999999997" y1="372.66" x2="351.8" y2="372.66" stroke="#333" stroke-width="0.9"/>
<rect x="365.60" y="414.94" width="15.2" height="14.56" fill="#14558e"/>
<line x1="373.2" y1="413.54" x2="373.2" y2="414.94" stroke="#333" stroke-width="0.9"/>
<line x1="369.59999999999997" y1="413.54" x2="376.8" y2="413.54" stroke="#333" stroke-width="0.9"/>
<text x="335.5" y="350.2" font-size="9.4" font-style="italic" text-anchor="middle" fill="#231f20" stroke="#231f20" stroke-width="0.16">Gata3</text>
<line x1="323.8" y1="363.4" x2="347.2" y2="363.4" stroke="#333" stroke-width="0.9"/>
<text x="335.50" y="364.00" font-size="7.6" text-anchor="middle" fill="#231f20" font-weight="normal" font-style="normal"  stroke="#231f20" stroke-width="0.26">**</text>
<line x1="348" y1="360.3" x2="371.9" y2="360.3" stroke="#333" stroke-width="0.9"/>
<text x="359.95" y="360.90" font-size="7.6" text-anchor="middle" fill="#231f20" font-weight="normal" font-style="normal"  stroke="#231f20" stroke-width="0.26">**</text>
<line x1="299.2" y1="369.9" x2="347.2" y2="369.9" stroke="#333" stroke-width="0.9"/>
<text x="323.20" y="370.50" font-size="7.6" text-anchor="middle" fill="#231f20" font-weight="normal" font-style="normal"  stroke="#231f20" stroke-width="0.26">***</text>
<text transform="translate(299.8,439.7) rotate(-30)" font-size="7.8" text-anchor="end" fill="#231f20" stroke="#231f20" stroke-width="0.26">Controls</text>
<text transform="translate(325,439.7) rotate(-30)" font-size="7.8" text-anchor="end" fill="#2ea3e3" font-style="italic" stroke="#2ea3e3" stroke-width="0.26">Tcf7<tspan font-size="4.8" dy="-2.6">Δ/Δ</tspan></text>
<text transform="translate(350.2,439.7) rotate(-30)" font-size="7.8" text-anchor="end" fill="#c8102e" stroke="#c8102e" stroke-width="0.26">N1IC</text>
<text transform="translate(375.2,439.7) rotate(-30)" font-size="7.8" text-anchor="end" fill="#335279" stroke="#335279" stroke-width="0.26">N1IC <tspan font-style="italic">Tcf7</tspan><tspan font-size="4.8" dy="-2.6" font-style="italic">Δ/Δ</tspan></text>
<line x1="408.4" y1="357.9" x2="408.4" y2="429.5" stroke="#111" stroke-width="1"/>
<line x1="407.9" y1="429" x2="513" y2="429" stroke="#111" stroke-width="1"/>
<line x1="405.09999999999997" y1="429.00" x2="408.4" y2="429.00" stroke="#111" stroke-width="0.8"/>
<text x="402.60" y="431.60" font-size="7.8" text-anchor="end" fill="#231f20" font-weight="normal" font-style="normal"  stroke="#231f20" stroke-width="0.26">0</text>
<line x1="405.09999999999997" y1="406.30" x2="408.4" y2="406.30" stroke="#111" stroke-width="0.8"/>
<text x="402.60" y="408.90" font-size="7.8" text-anchor="end" fill="#231f20" font-weight="normal" font-style="normal"  stroke="#231f20" stroke-width="0.26">10</text>
<line x1="405.09999999999997" y1="383.60" x2="408.4" y2="383.60" stroke="#111" stroke-width="0.8"/>
<text x="402.60" y="386.20" font-size="7.8" text-anchor="end" fill="#231f20" font-weight="normal" font-style="normal"  stroke="#231f20" stroke-width="0.26">20</text>
<line x1="405.09999999999997" y1="360.90" x2="408.4" y2="360.90" stroke="#111" stroke-width="0.8"/>
<text x="402.60" y="363.50" font-size="7.8" text-anchor="end" fill="#231f20" font-weight="normal" font-style="normal"  stroke="#231f20" stroke-width="0.26">30</text>
<line x1="425.3" y1="429" x2="425.3" y2="431" stroke="#111" stroke-width="0.8"/>
<line x1="450.3" y1="429" x2="450.3" y2="431" stroke="#111" stroke-width="0.8"/>
<line x1="475.9" y1="429" x2="475.9" y2="431" stroke="#111" stroke-width="0.8"/>
<line x1="500.6" y1="429" x2="500.6" y2="431" stroke="#111" stroke-width="0.8"/>
<line x1="425.3" y1="428.32" x2="425.3" y2="428.55" stroke="#333" stroke-width="0.9"/>
<line x1="421.7" y1="428.32" x2="428.90000000000003" y2="428.32" stroke="#333" stroke-width="0.9"/>
<rect x="442.70" y="428.32" width="15.2" height="0.68" fill="#2ea3e3"/>
<line x1="450.3" y1="426.73" x2="450.3" y2="428.32" stroke="#333" stroke-width="0.9"/>
<line x1="446.7" y1="426.73" x2="453.90000000000003" y2="426.73" stroke="#333" stroke-width="0.9"/>
<rect x="468.30" y="389.50" width="15.2" height="39.50" fill="#c8102e"/>
<line x1="475.9" y1="373.84" x2="475.9" y2="389.50" stroke="#333" stroke-width="0.9"/>
<line x1="472.29999999999995" y1="373.84" x2="479.5" y2="373.84" stroke="#333" stroke-width="0.9"/>
<line x1="500.6" y1="428.55" x2="500.6" y2="428.77" stroke="#333" stroke-width="0.9"/>
<line x1="497.0" y1="428.55" x2="504.20000000000005" y2="428.55" stroke="#333" stroke-width="0.9"/>
<text x="460.3" y="349.7" font-size="9.4" font-style="italic" text-anchor="middle" fill="#231f20" stroke="#231f20" stroke-width="0.16">CD3ε</text>
<line x1="451.2" y1="364.2" x2="474.6" y2="364.2" stroke="#333" stroke-width="0.9"/>
<text x="462.90" y="364.80" font-size="7.6" text-anchor="middle" fill="#231f20" font-weight="normal" font-style="normal"  stroke="#231f20" stroke-width="0.26">*</text>
<line x1="475.4" y1="360.8" x2="499.3" y2="360.8" stroke="#333" stroke-width="0.9"/>
<text x="487.35" y="361.40" font-size="7.6" text-anchor="middle" fill="#231f20" font-weight="normal" font-style="normal"  stroke="#231f20" stroke-width="0.26">*</text>
<line x1="427" y1="370.9" x2="474.6" y2="370.9" stroke="#333" stroke-width="0.9"/>
<text x="450.80" y="371.50" font-size="7.6" text-anchor="middle" fill="#231f20" font-weight="normal" font-style="normal"  stroke="#231f20" stroke-width="0.26">*</text>
<text transform="translate(427.3,439.2) rotate(-30)" font-size="7.8" text-anchor="end" fill="#231f20" stroke="#231f20" stroke-width="0.26">Controls</text>
<text transform="translate(452.3,439.2) rotate(-30)" font-size="7.8" text-anchor="end" fill="#2ea3e3" font-style="italic" stroke="#2ea3e3" stroke-width="0.26">Tcf7<tspan font-size="4.8" dy="-2.6">Δ/Δ</tspan></text>
<text transform="translate(477.9,439.2) rotate(-30)" font-size="7.8" text-anchor="end" fill="#c8102e" stroke="#c8102e" stroke-width="0.26">N1IC</text>
<text transform="translate(502.6,439.2) rotate(-30)" font-size="7.8" text-anchor="end" fill="#335279" stroke="#335279" stroke-width="0.26">N1IC <tspan font-style="italic">Tcf7</tspan><tspan font-size="4.8" dy="-2.6" font-style="italic">Δ/Δ</tspan></text>
<text transform="translate(13.2,391.8) rotate(-90)" font-size="7" text-anchor="middle" fill="#231f20" stroke="#231f20" stroke-width="0.26">TPM</text>
<text x="86.5" y="482.6" font-size="9.8" fill="#231f20" stroke="#231f20" stroke-width="0.16">GOBP induced by <tspan font-style="italic" fill="#c8102e" stroke="#c8102e" stroke-width="0.26">N1IC</tspan> independent of <tspan font-style="italic">Tcf7</tspan></text>
<rect x="235.3" y="487.90" width="85.70" height="6.7" fill="#e0138a"/>
<text x="232" y="493.85" font-size="7.7" text-anchor="end" fill="#231f20" stroke="#231f20" stroke-width="0.2" textLength="180.8" lengthAdjust="spacingAndGlyphs">Negative regulation of oligodendrocyte differentiation</text>
<rect x="235.3" y="495.84" width="78.41" height="6.7" fill="#e0138a"/>
<text x="232" y="501.79" font-size="7.7" text-anchor="end" fill="#231f20" stroke="#231f20" stroke-width="0.2" textLength="124.5" lengthAdjust="spacingAndGlyphs">Comma shaped body morphogenesis</text>
<rect x="235.3" y="503.78" width="74.15" height="6.7" fill="#e0138a"/>
<text x="232" y="509.73" font-size="7.7" text-anchor="end" fill="#231f20" stroke="#231f20" stroke-width="0.2" textLength="115.8" lengthAdjust="spacingAndGlyphs">Ventricular septum morphogenesis</text>
<rect x="235.3" y="511.72" width="73.34" height="6.7" fill="#e0138a"/>
<text x="232" y="517.67" font-size="7.7" text-anchor="end" fill="#231f20" stroke="#231f20" stroke-width="0.2" textLength="225.0" lengthAdjust="spacingAndGlyphs">Negative regulation of hematopoietic progenitor cell differentiation</text>
<rect x="235.3" y="519.66" width="73.34" height="6.7" fill="#e0138a"/>
<text x="232" y="525.61" font-size="7.7" text-anchor="end" fill="#231f20" stroke="#231f20" stroke-width="0.2" textLength="131.5" lengthAdjust="spacingAndGlyphs">Auditory receptor cell fate commitment</text>
<rect x="235.3" y="527.60" width="72.13" height="6.7" fill="#e0138a"/>
<text x="232" y="533.55" font-size="7.7" text-anchor="end" fill="#231f20" stroke="#231f20" stroke-width="0.2" textLength="152.0" lengthAdjust="spacingAndGlyphs">Positive regulation of astrocyte differentiation</text>
<rect x="235.3" y="535.54" width="69.90" height="6.7" fill="#e0138a"/>
<text x="232" y="541.49" font-size="7.7" text-anchor="end" fill="#231f20" stroke="#231f20" stroke-width="0.2" textLength="150.0" lengthAdjust="spacingAndGlyphs">Regulation of oligodendrocyte differentiation</text>
<rect x="235.3" y="543.48" width="69.90" height="6.7" fill="#e0138a"/>
<text x="232" y="549.43" font-size="7.7" text-anchor="end" fill="#231f20" stroke="#231f20" stroke-width="0.2" textLength="152.5" lengthAdjust="spacingAndGlyphs">Antigen receptor mediated signaling pathway</text>
<rect x="235.3" y="551.42" width="69.49" height="6.7" fill="#e0138a"/>
<text x="232" y="557.37" font-size="7.7" text-anchor="end" fill="#231f20" stroke="#231f20" stroke-width="0.2" textLength="198.2" lengthAdjust="spacingAndGlyphs">Regulation of inner ear auditory receptor cell differentiation</text>
<rect x="235.3" y="559.36" width="69.29" height="6.7" fill="#e0138a"/>
<text x="232" y="565.31" font-size="7.7" text-anchor="end" fill="#231f20" stroke="#231f20" stroke-width="0.2" textLength="102.5" lengthAdjust="spacingAndGlyphs">S shaped body morphogenesis</text>
<rect x="235.3" y="567.30" width="69.29" height="6.7" fill="#e0138a"/>
<text x="232" y="573.25" font-size="7.7" text-anchor="end" fill="#231f20" stroke="#231f20" stroke-width="0.2" textLength="177.5" lengthAdjust="spacingAndGlyphs">Regulation of lymphoid progenitor cell differentiation</text>
<rect x="235.3" y="575.24" width="66.25" height="6.7" fill="#e0138a"/>
<text x="232" y="581.19" font-size="7.7" text-anchor="end" fill="#231f20" stroke="#231f20" stroke-width="0.2" textLength="125.8" lengthAdjust="spacingAndGlyphs">Regulation of astrocyte differentiation</text>
<rect x="235.3" y="583.18" width="65.24" height="6.7" fill="#e0138a"/>
<text x="232" y="589.13" font-size="7.7" text-anchor="end" fill="#231f20" stroke="#231f20" stroke-width="0.2" textLength="109.0" lengthAdjust="spacingAndGlyphs">T cell receptor signaling pathway</text>
<rect x="235.3" y="591.12" width="62.81" height="6.7" fill="#e0138a"/>
<text x="232" y="597.07" font-size="7.7" text-anchor="end" fill="#231f20" stroke="#231f20" stroke-width="0.2" textLength="127.0" lengthAdjust="spacingAndGlyphs">Regulation of notch signaling pathway</text>
<rect x="235.3" y="599.06" width="62.20" height="6.7" fill="#e0138a"/>
<text x="232" y="605.01" font-size="7.7" text-anchor="end" fill="#231f20" stroke="#231f20" stroke-width="0.2" textLength="177.0" lengthAdjust="spacingAndGlyphs">Antigen processing and presentation via MHC class II</text>
<rect x="235.3" y="607.00" width="61.59" height="6.7" fill="#e0138a"/>
<text x="232" y="612.95" font-size="7.7" text-anchor="end" fill="#231f20" stroke="#231f20" stroke-width="0.2" textLength="54.0" lengthAdjust="spacingAndGlyphs">Bone resorption</text>
<rect x="235.3" y="614.94" width="60.58" height="6.7" fill="#e0138a"/>
<text x="232" y="620.89" font-size="7.7" text-anchor="end" fill="#231f20" stroke="#231f20" stroke-width="0.2" textLength="99.0" lengthAdjust="spacingAndGlyphs">Cell-cell junction maintenance</text>
<rect x="235.3" y="622.88" width="60.58" height="6.7" fill="#e0138a"/>
<text x="232" y="628.83" font-size="7.7" text-anchor="end" fill="#231f20" stroke="#231f20" stroke-width="0.2" textLength="80.0" lengthAdjust="spacingAndGlyphs">Pro B cell differentiation</text>
<rect x="235.3" y="630.82" width="60.37" height="6.7" fill="#e0138a"/>
<text x="232" y="636.77" font-size="7.7" text-anchor="end" fill="#231f20" stroke="#231f20" stroke-width="0.2" textLength="140.8" lengthAdjust="spacingAndGlyphs">Regulation of homotypic cell-cell adhesion</text>
<rect x="235.3" y="638.76" width="59.97" height="6.7" fill="#e0138a"/>
<text x="232" y="644.71" font-size="7.7" text-anchor="end" fill="#231f20" stroke="#231f20" stroke-width="0.2" textLength="91.5" lengthAdjust="spacingAndGlyphs">Macrophage differentiation</text>
<line x1="235.3" y1="486.8" x2="235.3" y2="652.2" stroke="#111" stroke-width="1"/>
<line x1="234.8" y1="651.7" x2="337.1" y2="651.7" stroke="#111" stroke-width="1"/>
<line x1="235.30" y1="651.7" x2="235.30" y2="653.9" stroke="#111" stroke-width="0.8"/>
<text x="235.30" y="664.20" font-size="7.8" text-anchor="middle" fill="#231f20" font-weight="normal" font-style="normal"  stroke="#231f20" stroke-width="0.26">0</text>
<line x1="255.56" y1="651.7" x2="255.56" y2="653.9" stroke="#111" stroke-width="0.8"/>
<text x="255.56" y="664.20" font-size="7.8" text-anchor="middle" fill="#231f20" font-weight="normal" font-style="normal"  stroke="#231f20" stroke-width="0.26">1</text>
<line x1="275.82" y1="651.7" x2="275.82" y2="653.9" stroke="#111" stroke-width="0.8"/>
<text x="275.82" y="664.20" font-size="7.8" text-anchor="middle" fill="#231f20" font-weight="normal" font-style="normal"  stroke="#231f20" stroke-width="0.26">2</text>
<line x1="296.08" y1="651.7" x2="296.08" y2="653.9" stroke="#111" stroke-width="0.8"/>
<text x="296.08" y="664.20" font-size="7.8" text-anchor="middle" fill="#231f20" font-weight="normal" font-style="normal"  stroke="#231f20" stroke-width="0.26">3</text>
<line x1="316.34" y1="651.7" x2="316.34" y2="653.9" stroke="#111" stroke-width="0.8"/>
<text x="316.34" y="664.20" font-size="7.8" text-anchor="middle" fill="#231f20" font-weight="normal" font-style="normal"  stroke="#231f20" stroke-width="0.26">4</text>
<line x1="336.60" y1="651.7" x2="336.60" y2="653.9" stroke="#111" stroke-width="0.8"/>
<text x="336.60" y="664.20" font-size="7.8" text-anchor="middle" fill="#231f20" font-weight="normal" font-style="normal"  stroke="#231f20" stroke-width="0.26">5</text>
<text x="286.6" y="675" font-size="7.8" text-anchor="middle" fill="#231f20" stroke="#231f20" stroke-width="0.26">-log<tspan font-size="5.2" dy="2">10</tspan><tspan dy="-2">(P)</tspan></text>
<line x1="408" y1="494.6" x2="408" y2="567.9" stroke="#111" stroke-width="1"/>
<line x1="407.5" y1="567.4" x2="513" y2="567.4" stroke="#111" stroke-width="1"/>
<line x1="404.7" y1="567.40" x2="408" y2="567.40" stroke="#111" stroke-width="0.8"/>
<text x="402.50" y="570.00" font-size="7.8" text-anchor="end" fill="#231f20" font-weight="normal" font-style="normal"  stroke="#231f20" stroke-width="0.26">0</text>
<line x1="404.7" y1="549.82" x2="408" y2="549.82" stroke="#111" stroke-width="0.8"/>
<text x="402.50" y="552.42" font-size="7.8" text-anchor="end" fill="#231f20" font-weight="normal" font-style="normal"  stroke="#231f20" stroke-width="0.26">50</text>
<line x1="404.7" y1="532.25" x2="408" y2="532.25" stroke="#111" stroke-width="0.8"/>
<text x="402.50" y="534.85" font-size="7.8" text-anchor="end" fill="#231f20" font-weight="normal" font-style="normal"  stroke="#231f20" stroke-width="0.26">100</text>
<line x1="404.7" y1="514.67" x2="408" y2="514.67" stroke="#111" stroke-width="0.8"/>
<text x="402.50" y="517.27" font-size="7.8" text-anchor="end" fill="#231f20" font-weight="normal" font-style="normal"  stroke="#231f20" stroke-width="0.26">150</text>
<line x1="404.7" y1="497.10" x2="408" y2="497.10" stroke="#111" stroke-width="0.8"/>
<text x="402.50" y="499.70" font-size="7.8" text-anchor="end" fill="#231f20" font-weight="normal" font-style="normal"  stroke="#231f20" stroke-width="0.26">200</text>
<line x1="423.6" y1="567.4" x2="423.6" y2="569.4" stroke="#111" stroke-width="0.8"/>
<rect x="416.10" y="552.99" width="15" height="14.41" fill="#c3c3cb"/>
<line x1="423.6" y1="551.23" x2="423.6" y2="552.99" stroke="#333" stroke-width="0.9"/>
<line x1="420.0" y1="551.23" x2="427.20000000000005" y2="551.23" stroke="#333" stroke-width="0.9"/>
<line x1="448.3" y1="567.4" x2="448.3" y2="569.4" stroke="#111" stroke-width="0.8"/>
<rect x="440.80" y="556.15" width="15" height="11.25" fill="#2ea3e3"/>
<line x1="448.3" y1="553.34" x2="448.3" y2="556.15" stroke="#333" stroke-width="0.9"/>
<line x1="444.7" y1="553.34" x2="451.90000000000003" y2="553.34" stroke="#333" stroke-width="0.9"/>
<line x1="472.7" y1="567.4" x2="472.7" y2="569.4" stroke="#111" stroke-width="0.8"/>
<rect x="465.20" y="511.51" width="15" height="55.89" fill="#c8102e"/>
<line x1="472.7" y1="505.18" x2="472.7" y2="511.51" stroke="#333" stroke-width="0.9"/>
<line x1="469.09999999999997" y1="505.18" x2="476.3" y2="505.18" stroke="#333" stroke-width="0.9"/>
<line x1="497.2" y1="567.4" x2="497.2" y2="569.4" stroke="#111" stroke-width="0.8"/>
<rect x="489.70" y="523.81" width="15" height="43.59" fill="#14558e"/>
<line x1="497.2" y1="519.95" x2="497.2" y2="523.81" stroke="#333" stroke-width="0.9"/>
<line x1="493.59999999999997" y1="519.95" x2="500.8" y2="519.95" stroke="#333" stroke-width="0.9"/>
<text x="465.2" y="482.8" font-size="9.6" font-style="italic" text-anchor="middle" fill="#231f20" stroke="#231f20" stroke-width="0.16">Notch1</text>
<text transform="translate(383.8,532.6) rotate(-90)" font-size="7" text-anchor="middle" fill="#231f20" stroke="#231f20" stroke-width="0.26">TPM</text>
<path d="M423.4,544.4 H446.4 M436.9,544.4 V494.5 H496.9 V497.5 M436.9,503.2 H472.4 V506" fill="none" stroke="#333" stroke-width="0.9"/>
<text x="468.00" y="495.40" font-size="7.6" text-anchor="middle" fill="#231f20" font-weight="normal" font-style="normal"  stroke="#231f20" stroke-width="0.26">**</text>
<text x="455.00" y="504.20" font-size="7.6" text-anchor="middle" fill="#231f20" font-weight="normal" font-style="normal"  stroke="#231f20" stroke-width="0.26">***</text>
<line x1="406.9" y1="591.1" x2="406.9" y2="664.9" stroke="#111" stroke-width="1"/>
<line x1="406.4" y1="664.4" x2="513" y2="664.4" stroke="#111" stroke-width="1"/>
<line x1="403.59999999999997" y1="664.40" x2="406.9" y2="664.40" stroke="#111" stroke-width="0.8"/>
<text x="401.40" y="667.00" font-size="7.8" text-anchor="end" fill="#231f20" font-weight="normal" font-style="normal"  stroke="#231f20" stroke-width="0.26">0</text>
<line x1="403.59999999999997" y1="650.25" x2="406.9" y2="650.25" stroke="#111" stroke-width="0.8"/>
<text x="401.40" y="652.85" font-size="7.8" text-anchor="end" fill="#231f20" font-weight="normal" font-style="normal"  stroke="#231f20" stroke-width="0.26">50</text>
<line x1="403.59999999999997" y1="636.10" x2="406.9" y2="636.10" stroke="#111" stroke-width="0.8"/>
<text x="401.40" y="638.70" font-size="7.8" text-anchor="end" fill="#231f20" font-weight="normal" font-style="normal"  stroke="#231f20" stroke-width="0.26">100</text>
<line x1="403.59999999999997" y1="621.95" x2="406.9" y2="621.95" stroke="#111" stroke-width="0.8"/>
<text x="401.40" y="624.55" font-size="7.8" text-anchor="end" fill="#231f20" font-weight="normal" font-style="normal"  stroke="#231f20" stroke-width="0.26">150</text>
<line x1="403.59999999999997" y1="607.80" x2="406.9" y2="607.80" stroke="#111" stroke-width="0.8"/>
<text x="401.40" y="610.40" font-size="7.8" text-anchor="end" fill="#231f20" font-weight="normal" font-style="normal"  stroke="#231f20" stroke-width="0.26">200</text>
<line x1="403.59999999999997" y1="593.65" x2="406.9" y2="593.65" stroke="#111" stroke-width="0.8"/>
<text x="401.40" y="596.25" font-size="7.8" text-anchor="end" fill="#231f20" font-weight="normal" font-style="normal"  stroke="#231f20" stroke-width="0.26">250</text>
<line x1="423.6" y1="664.4" x2="423.6" y2="666.4" stroke="#111" stroke-width="0.8"/>
<rect x="416.10" y="663.83" width="15" height="0.57" fill="#c3c3cb"/>
<line x1="423.6" y1="662.99" x2="423.6" y2="663.83" stroke="#333" stroke-width="0.9"/>
<line x1="420.0" y1="662.99" x2="427.20000000000005" y2="662.99" stroke="#333" stroke-width="0.9"/>
<line x1="448.3" y1="664.4" x2="448.3" y2="666.4" stroke="#111" stroke-width="0.8"/>
<rect x="440.80" y="662.14" width="15" height="2.26" fill="#2ea3e3"/>
<line x1="448.3" y1="661.00" x2="448.3" y2="662.14" stroke="#333" stroke-width="0.9"/>
<line x1="444.7" y1="661.00" x2="451.90000000000003" y2="661.00" stroke="#333" stroke-width="0.9"/>
<line x1="472.7" y1="664.4" x2="472.7" y2="666.4" stroke="#111" stroke-width="0.8"/>
<rect x="465.20" y="621.10" width="15" height="43.30" fill="#c8102e"/>
<line x1="472.7" y1="610.91" x2="472.7" y2="621.10" stroke="#333" stroke-width="0.9"/>
<line x1="469.09999999999997" y1="610.91" x2="476.3" y2="610.91" stroke="#333" stroke-width="0.9"/>
<line x1="497.2" y1="664.4" x2="497.2" y2="666.4" stroke="#111" stroke-width="0.8"/>
<rect x="489.70" y="612.61" width="15" height="51.79" fill="#14558e"/>
<line x1="497.2" y1="604.69" x2="497.2" y2="612.61" stroke="#333" stroke-width="0.9"/>
<line x1="493.59999999999997" y1="604.69" x2="500.8" y2="604.69" stroke="#333" stroke-width="0.9"/>
<text x="463.7" y="587" font-size="9.6" font-style="italic" text-anchor="middle" fill="#231f20" stroke="#231f20" stroke-width="0.16">Hes1</text>
<text transform="translate(383.8,627) rotate(-90)" font-size="7" text-anchor="middle" fill="#231f20" stroke="#231f20" stroke-width="0.26">TPM</text>
<path d="M423.4,647.1 H447.3 M436.3,647.1 V595.8 H485.4 V601.5 M472.4,601.5 H496.9" fill="none" stroke="#333" stroke-width="0.9"/>
<text x="462.30" y="596.60" font-size="7.6" text-anchor="middle" fill="#231f20" font-weight="normal" font-style="normal"  stroke="#231f20" stroke-width="0.26">**</text>
<text transform="translate(426.20000000000005,674.8) rotate(-30)" font-size="7.6" text-anchor="end" fill="#231f20" stroke="#231f20" stroke-width="0.26">Controls</text>
<text transform="translate(450.90000000000003,674.8) rotate(-30)" font-size="7.6" text-anchor="end" fill="#2ea3e3" font-style="italic" stroke="#2ea3e3" stroke-width="0.26">Tcf7<tspan font-size="5" dy="-2.6">Δ/Δ</tspan></text>
<text transform="translate(475.3,674.8) rotate(-30)" font-size="7.6" text-anchor="end" fill="#c8102e" stroke="#c8102e" stroke-width="0.26">N1IC</text>
<text transform="translate(499.8,674.8) rotate(-30)" font-size="7.6" text-anchor="end" fill="#335279" stroke="#335279" stroke-width="0.26">N1IC <tspan font-style="italic">Tcf7</tspan><tspan font-size="5" dy="-2.6" font-style="italic">Δ/Δ</tspan></text>
<rect x="1" y="1" width="518" height="703" fill="none" stroke="#000" stroke-width="2"/>
</svg></body></html>
